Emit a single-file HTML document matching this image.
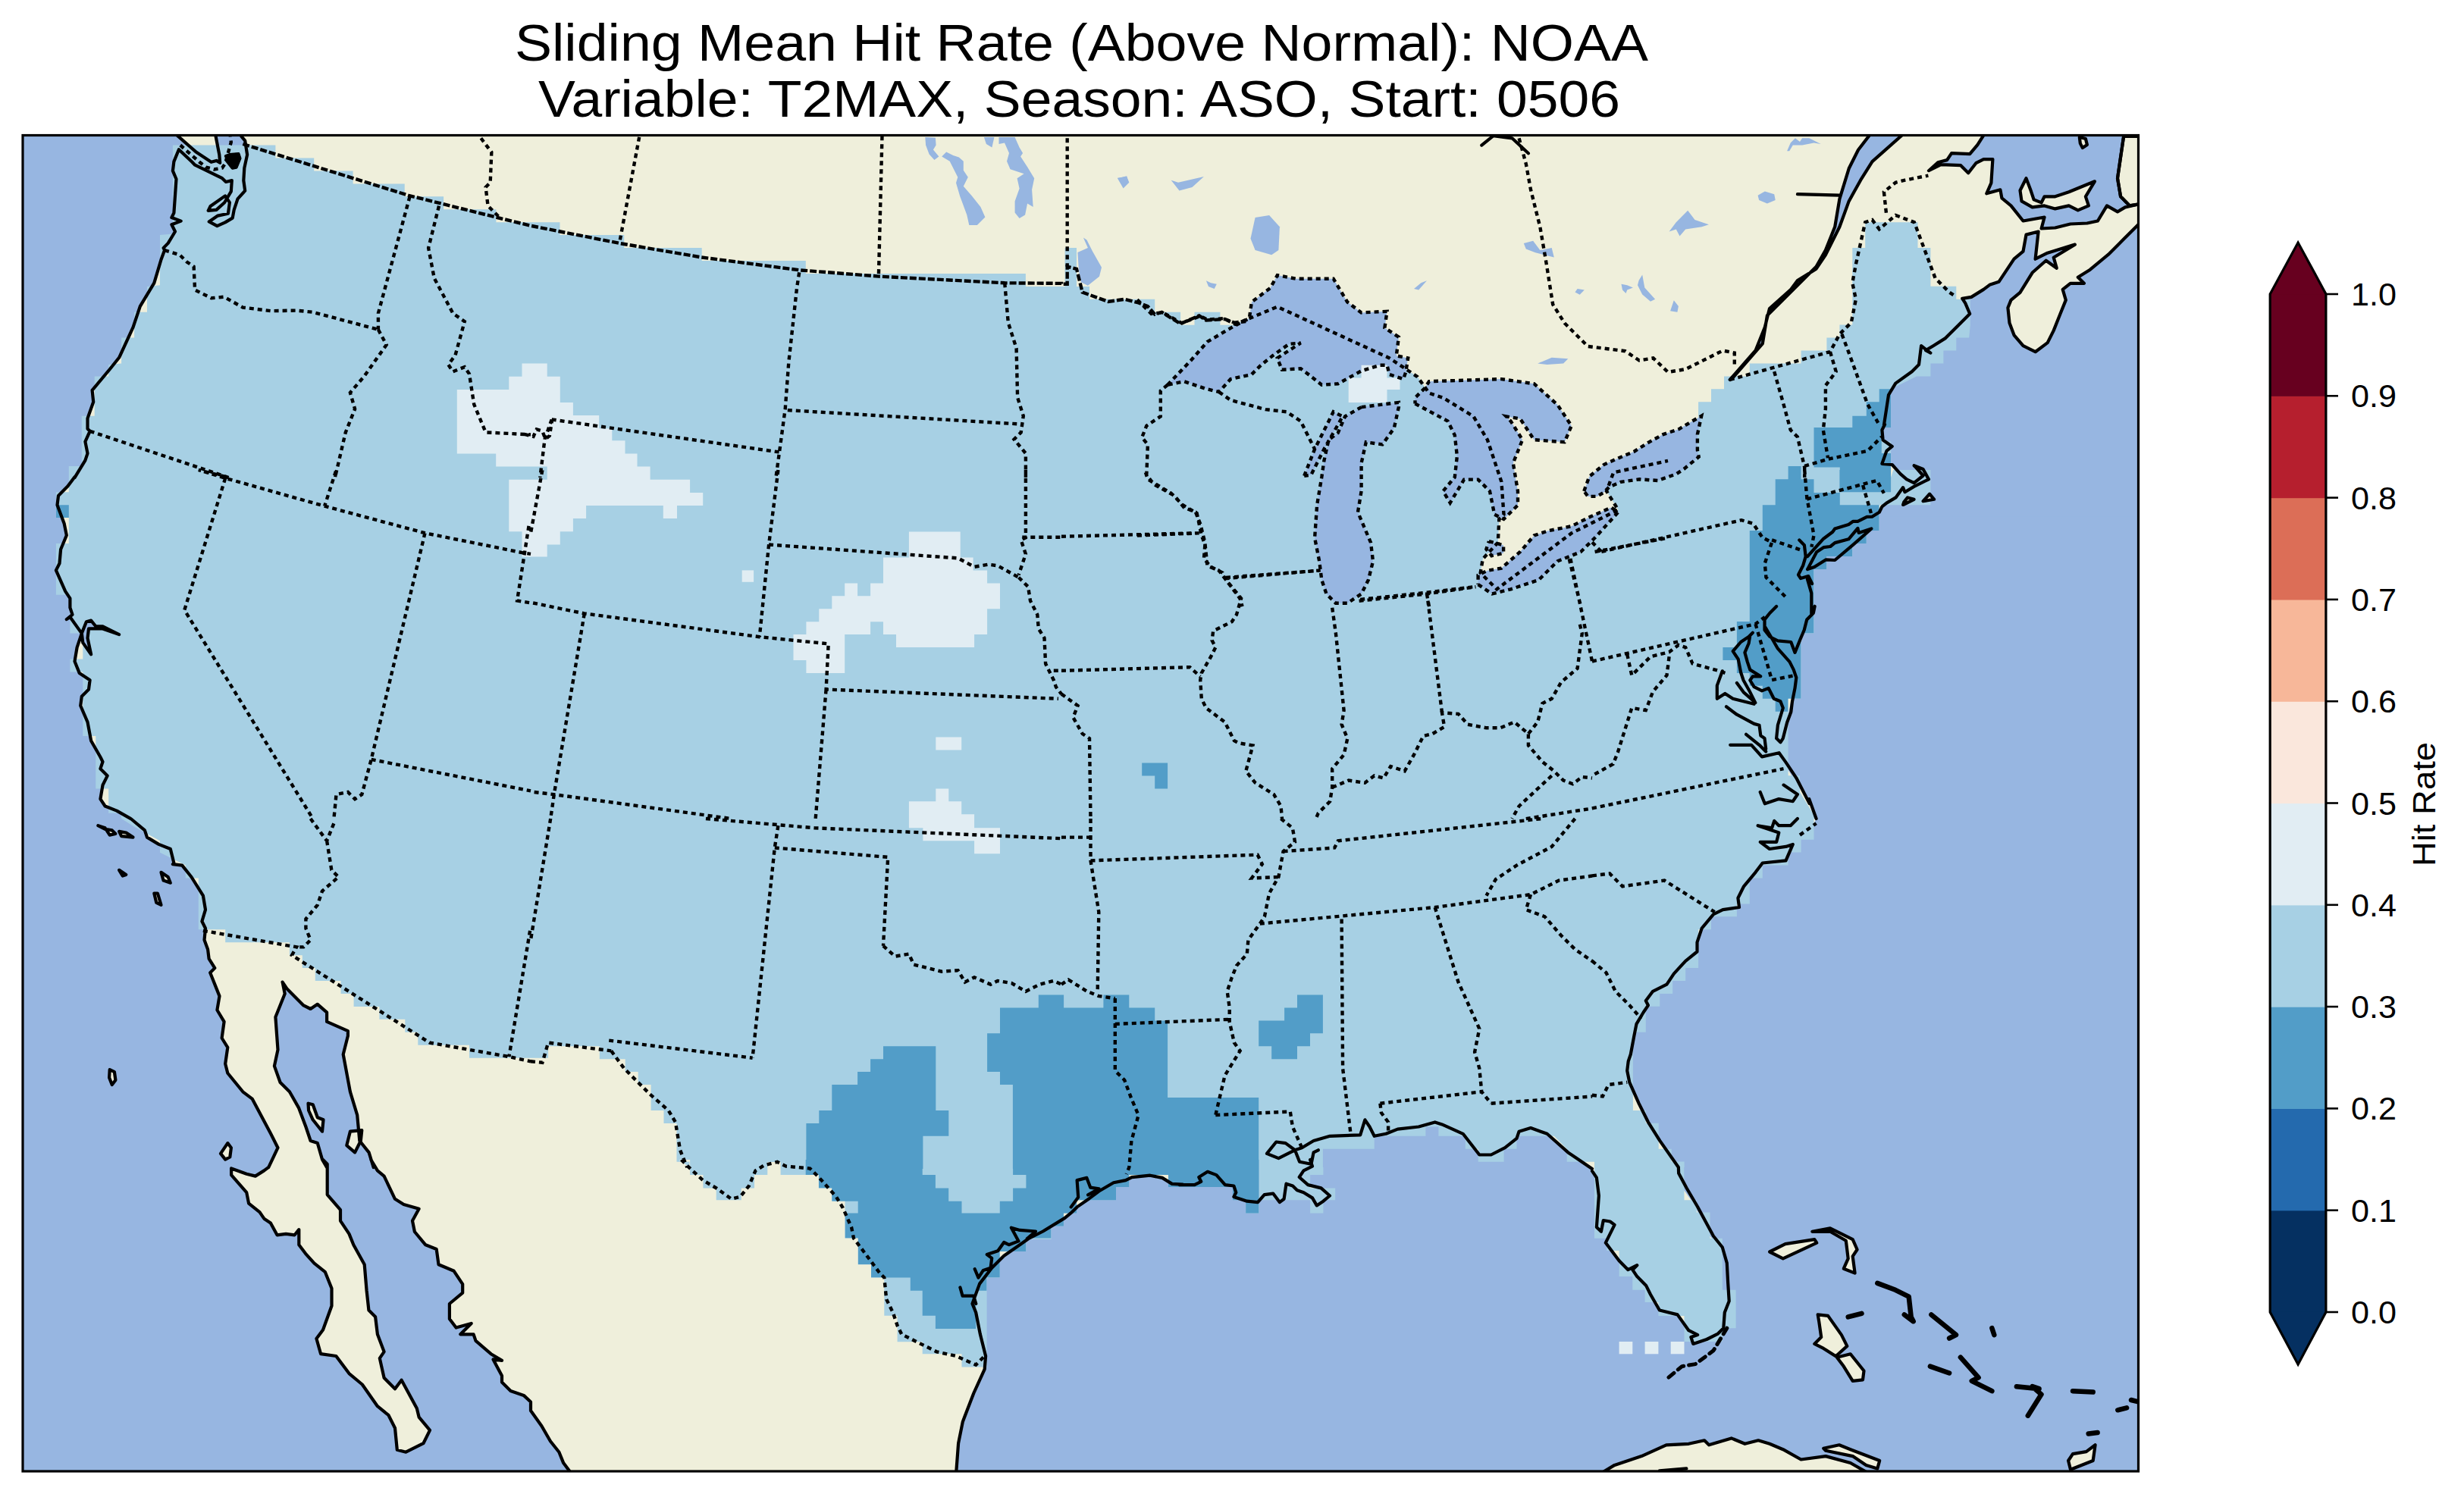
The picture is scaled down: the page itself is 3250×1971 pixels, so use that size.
<!DOCTYPE html>
<html><head><meta charset="utf-8"><style>
html,body{margin:0;padding:0;background:#fff;}
svg{display:block;}
.title{font-family:"Liberation Sans",sans-serif;font-size:68px;fill:#000;}
.tick{font-family:"Liberation Sans",sans-serif;font-size:42px;fill:#000;}
.dot{fill:none;stroke:#000;stroke-width:4.4;stroke-dasharray:6 5;}
.coast{fill:none;stroke:#000;stroke-width:4.2;stroke-linejoin:round;stroke-linecap:round;}
path.coast[fill]{}
</style></head><body>
<svg width="3250" height="1971" viewBox="0 0 3250 1971">
<rect width="3250" height="1971" fill="#fff"/>
<text x="679" y="80" class="title" textLength="1495" lengthAdjust="spacingAndGlyphs">Sliding Mean Hit Rate (Above Normal): NOAA</text><text x="710" y="154" class="title" textLength="1427" lengthAdjust="spacingAndGlyphs">Variable: T2MAX, Season: ASO, Start: 0506</text>
<defs><clipPath id="fr"><rect x="30" y="178.5" width="2790.5" height="1762.5"/></clipPath><clipPath id="dc"><path d="M90.8,630.1 L90.8,615.0 L107.8,615.0 L107.8,548.8 L124.7,548.8 L124.7,496.4 L143.2,496.4 L143.2,481.0 L160.1,479.5 L160.1,445.6 L177.1,445.6 L177.1,411.8 L194.0,411.8 L194.0,377.9 L211.0,376.3 L211.0,310.1 L227.9,308.6 L227.9,191.6 L363.4,191.6 L363.4,208.5 L414.2,208.5 L414.2,225.4 L465.6,225.4 L465.6,242.4 L533.7,242.4 L533.7,259.3 L585.1,259.3 L585.1,276.2 L654.4,276.2 L654.4,293.2 L700.0,293.2 L700.0,293.2 L738.5,293.2 L738.5,310.1 L823.2,310.1 L823.2,327.1 L925.7,327.1 L925.7,344.0 L1062.8,344.0 L1062.8,360.9 L1352.9,360.9 L1352.9,377.9 L1400.0,377.9 L1400.0,377.9 L1404.6,377.9 L1404.6,327.1 L1420.0,327.1 L1420.0,377.9 L1437.0,377.9 L1437.0,394.8 L1523.2,394.8 L1523.2,411.8 L1557.1,411.8 L1557.1,428.7 L1575.5,428.7 L1575.5,411.8 L1609.4,411.8 L1609.4,428.7 L1626.4,428.7 L1629.3,427.8 L1684.8,404.7 L1832.6,472.4 L1851.1,484.7 L1869.6,497.1 L1885.0,518.6 L1903.4,524.8 L1943.5,549.4 L1961.9,580.2 L1980.4,635.6 L1983.5,678.8 L1977.3,684.9 L1975.8,715.7 L1955.8,737.3 L1952.7,755.8 L1974.3,777.3 L2023.5,740.4 L2072.8,703.4 L2103.6,688.0 L2134.4,672.6 L2119.0,648.0 L2128.2,623.3 L2200.0,607.9 L2200.1,608.1 L2223.2,582.6 L2240.1,564.1 L2240.1,530.2 L2257.0,530.2 L2257.0,513.3 L2274.0,513.3 L2274.0,496.4 L2307.8,496.4 L2307.8,479.4 L2375.6,479.4 L2375.6,462.5 L2409.4,462.5 L2409.4,445.6 L2426.4,445.6 L2426.4,428.6 L2443.3,428.6 L2443.3,327.0 L2460.2,327.0 L2460.2,293.2 L2529.5,293.2 L2529.5,327.0 L2546.4,327.0 L2546.4,377.8 L2580.3,377.8 L2580.3,394.8 L2598.8,394.8 L2598.8,428.6 L2597.2,445.6 L2580.3,445.6 L2580.3,462.5 L2563.4,462.5 L2563.4,479.4 L2546.4,479.4 L2546.4,496.4 L2528.0,496.4 L2494.1,513.3 L2494.1,564.1 L2481.8,564.1 L2481.8,582.6 L2494.1,582.6 L2494.1,630.0 L2497.2,620.0 L2546.4,620.0 L2546.4,666.2 L2478.7,666.2 L2478.7,700.1 L2461.8,700.1 L2461.8,717.0 L2443.3,717.0 L2443.3,733.9 L2409.4,733.9 L2409.4,750.9 L2392.5,750.9 L2392.5,835.5 L2375.6,835.5 L2375.6,921.7 L2358.6,921.7 L2358.6,1023.3 L2374.0,1023.3 L2374.0,1044.9 L2395.6,1080.0 L2392.5,1080.0 L2392.5,1107.7 L2375.6,1107.7 L2375.6,1124.6 L2358.6,1124.6 L2358.6,1141.6 L2324.8,1141.6 L2324.8,1158.5 L2307.8,1158.5 L2307.8,1192.4 L2290.9,1192.4 L2290.9,1209.3 L2257.0,1209.3 L2257.0,1226.2 L2240.1,1226.2 L2240.1,1277.0 L2223.2,1277.0 L2223.2,1294.0 L2206.2,1294.0 L2206.2,1310.9 L2189.3,1310.9 L2189.3,1327.8 L2170.8,1327.8 L2170.8,1361.7 L2153.9,1361.7 L2153.9,1464.9 L2170.8,1464.9 L2170.8,1481.8 L2187.7,1481.8 L2187.7,1515.7 L2204.7,1515.7 L2204.7,1532.6 L2221.6,1532.6 L2221.6,1540.0 L2221.2,1540.1 L2221.5,1583.3 L2237.8,1583.3 L2237.8,1599.6 L2255.5,1599.6 L2255.5,1633.7 L2271.8,1633.7 L2271.8,1701.8 L2289.6,1701.8 L2289.6,1752.2 L2271.8,1752.2 L2271.8,1770.0 L2221.5,1770.0 L2221.5,1735.9 L2187.4,1735.9 L2187.4,1718.1 L2169.6,1718.1 L2169.6,1701.8 L2153.3,1701.8 L2153.3,1684.1 L2135.6,1684.1 L2135.6,1650.0 L2119.3,1650.0 L2119.3,1633.7 L2103.0,1633.7 L2103.0,1532.7 L2100.0,1532.7 L2066.7,1532.7 L2066.7,1515.8 L2049.8,1498.8 L2000.5,1498.8 L2000.5,1515.8 L1983.6,1515.8 L1983.6,1532.7 L1949.7,1532.7 L1949.7,1515.8 L1932.8,1515.8 L1932.8,1498.8 L1897.4,1498.8 L1897.4,1486.5 L1880.4,1486.5 L1880.4,1498.8 L1812.7,1498.8 L1812.7,1515.8 L1744.9,1515.8 L1744.9,1540.1 L1745.4,1540.1 L1745.4,1550.1 L1728.1,1550.1 L1728.1,1567.4 L1761.2,1567.4 L1761.2,1583.2 L1745.4,1583.2 L1745.4,1600.5 L1728.1,1600.5 L1728.1,1583.2 L1660.5,1583.2 L1660.5,1600.5 L1643.2,1600.5 L1643.2,1583.2 L1625.9,1583.2 L1625.9,1566.0 L1541.0,1566.0 L1541.0,1550.1 L1489.2,1550.1 L1489.2,1566.0 L1472.0,1566.0 L1472.0,1583.2 L1420.1,1583.2 L1420.1,1600.5 L1402.9,1600.5 L1402.9,1617.8 L1400.0,1617.8 L1400.0,1617.8 L1386.5,1617.8 L1386.5,1635.1 L1353.4,1635.1 L1353.4,1650.9 L1318.8,1650.9 L1318.8,1685.4 L1301.6,1685.4 L1301.6,1803.4 L1268.5,1803.4 L1268.5,1786.2 L1216.7,1786.2 L1216.7,1770.3 L1183.6,1770.3 L1183.6,1735.8 L1166.3,1735.8 L1166.3,1685.4 L1149.0,1685.4 L1149.0,1668.2 L1131.7,1668.2 L1131.7,1633.6 L1114.5,1633.6 L1114.5,1584.7 L1097.2,1584.7 L1097.2,1567.4 L1079.9,1567.4 L1079.9,1550.1 L1029.6,1550.1 L1029.6,1532.9 L1012.3,1532.9 L1012.3,1550.1 L995.0,1550.1 L995.0,1567.4 L977.8,1567.4 L977.8,1583.2 L944.7,1583.2 L944.7,1567.4 L927.4,1567.4 L927.4,1550.1 L910.1,1550.1 L910.1,1530.0 L895.7,1530.0 L909.4,1540.1 L909.4,1532.7 L892.5,1532.7 L892.5,1481.9 L875.5,1481.9 L875.5,1465.0 L858.6,1465.0 L858.6,1431.1 L841.7,1431.1 L841.7,1414.1 L824.7,1414.1 L824.7,1397.2 L790.8,1397.2 L790.8,1380.3 L723.1,1380.3 L723.1,1395.7 L700.0,1395.7 L700.0,1395.7 L619.0,1395.7 L619.0,1378.7 L551.3,1378.7 L551.3,1361.8 L534.3,1361.8 L534.3,1344.8 L500.4,1344.8 L500.4,1327.9 L466.6,1327.9 L466.6,1311.0 L449.6,1311.0 L449.6,1294.0 L415.8,1294.0 L415.8,1277.1 L398.8,1277.1 L398.8,1260.2 L381.9,1260.2 L381.9,1243.2 L297.2,1243.2 L297.2,1226.3 L261.8,1226.3 L261.8,1158.5 L244.8,1158.5 L244.8,1141.6 L211.0,1124.7 L211.0,1109.3 L177.1,1090.8 L160.1,1080.0 L160.1,1080.1 L160.1,1072.7 L143.2,1072.7 L143.2,1040.4 L126.3,1040.4 L126.3,971.1 L109.3,971.1 L109.3,886.4 L92.4,886.4 L92.4,869.5 L109.3,869.5 L109.3,835.6 L92.4,835.6 L92.4,784.8 L73.9,784.8 L73.9,717.0 L90.8,717.0 L90.8,683.1 L73.9,683.1 L73.9,649.3 L90.8,649.3 L90.8,620.0Z"/></clipPath></defs><g clip-path="url(#fr)"><rect x="30" y="178.5" width="2790.5" height="1762.5" fill="#efefdb"/><path d="M25.0,173.5 L318.4,173.5 L318.4,179.9 L323.2,185.7 L326.1,204.1 L322.3,221.6 L321.3,238.1 L323.2,251.7 L313.5,262.3 L308.7,276.9 L306.7,287.6 L297.0,293.4 L286.4,298.2 L275.7,292.4 L287.3,284.6 L300.9,281.7 L302.9,267.2 L297.0,258.4 L277.6,272.0 L274.7,277.9 L285.4,276.9 L296.1,267.2 L304.8,252.6 L305.8,238.1 L298.0,240.0 L293.1,235.2 L285.4,231.3 L257.2,217.7 L253.4,213.8 L235.9,197.3 L229.4,213.1 L227.9,225.4 L232.5,236.2 L229.4,280.9 L226.4,287.0 L238.7,291.6 L226.4,296.3 L231.0,305.5 L221.7,320.9 L215.6,327.1 L217.1,330.1 L212.5,342.5 L203.3,373.3 L184.8,404.1 L175.5,431.8 L157.1,471.8 L144.7,487.2 L121.6,514.9 L123.2,530.3 L115.5,551.9 L115.5,565.7 L118.6,568.8 L112.4,582.7 L115.5,598.1 L112.4,607.3 L98.5,630.1 L98.5,630.1 L98.5,629.2 L89.3,641.6 L77.0,653.9 L75.5,666.2 L84.7,690.8 L87.8,706.2 L80.1,724.7 L78.5,743.2 L73.9,752.4 L86.2,780.1 L92.4,789.4 L92.4,801.7 L95.5,810.9 L87.8,817.1 L92.4,814.0 L107.8,835.6 L101.6,854.1 L98.5,872.5 L104.7,887.9 L118.6,897.2 L117.0,909.5 L107.8,918.7 L106.2,931.0 L115.5,952.6 L120.1,977.2 L132.4,998.8 L135.5,1005.0 L132.4,1014.2 L141.7,1023.4 L135.5,1035.8 L132.4,1054.2 L138.6,1063.5 L154.0,1069.6 L172.5,1080.1 L172.5,1080.0 L190.9,1095.4 L194.0,1104.6 L209.4,1113.9 L224.8,1120.0 L229.4,1138.5 L227.9,1140.1 L240.2,1141.6 L252.5,1157.0 L267.9,1181.6 L271.0,1200.1 L266.4,1215.5 L271.0,1224.7 L269.5,1240.1 L274.1,1252.5 L275.6,1264.8 L283.3,1277.1 L277.2,1283.3 L289.5,1314.1 L286.4,1332.5 L295.6,1347.9 L292.6,1369.5 L300.3,1381.8 L297.2,1403.4 L300.3,1415.7 L320.3,1440.3 L332.6,1449.6 L357.2,1495.8 L366.5,1514.2 L354.2,1540.1 L354.0,1540.1 L348.3,1544.4 L336.8,1551.6 L325.2,1548.7 L305.1,1541.5 L305.1,1550.1 L325.2,1573.2 L328.1,1587.6 L342.5,1599.1 L348.3,1607.7 L356.9,1613.5 L365.5,1629.3 L377.1,1627.9 L388.6,1629.3 L394.3,1622.1 L394.3,1642.3 L403.0,1653.8 L414.5,1666.7 L428.9,1678.2 L437.5,1699.8 L437.5,1722.8 L426.0,1754.5 L417.4,1766.0 L423.1,1786.2 L443.3,1789.0 L460.5,1812.1 L477.8,1826.5 L497.9,1855.2 L512.3,1866.8 L521.0,1884.0 L523.8,1912.8 L535.4,1915.7 L558.4,1904.2 L567.0,1886.9 L552.6,1869.6 L549.8,1858.1 L529.6,1820.7 L521.0,1832.2 L506.6,1817.8 L500.8,1791.9 L506.6,1783.3 L497.9,1760.3 L495.1,1737.2 L486.4,1728.6 L483.6,1702.7 L480.7,1668.2 L466.3,1642.3 L460.5,1627.9 L449.0,1610.6 L449.0,1596.2 L431.7,1576.1 L431.7,1535.8 L426.0,1530.0 L431.1,1540.1 L425.0,1529.6 L418.8,1508.1 L409.6,1505.0 L403.4,1486.5 L394.2,1461.9 L381.9,1440.3 L369.6,1428.0 L361.9,1406.4 L366.5,1384.9 L363.4,1341.8 L375.7,1311.0 L372.6,1295.6 L372.6,1295.6 L378.8,1304.8 L400.4,1326.4 L409.6,1331.0 L418.8,1324.8 L431.1,1335.6 L431.1,1347.9 L458.9,1360.2 L458.9,1366.4 L452.7,1391.0 L461.9,1440.3 L471.2,1471.1 L474.3,1505.0 L486.6,1520.4 L492.7,1540.1 L489.3,1530.0 L497.9,1544.4 L506.6,1551.6 L521.0,1581.8 L532.5,1589.0 L552.6,1594.8 L544.0,1610.6 L546.9,1625.0 L561.3,1642.3 L575.7,1648.0 L578.5,1668.2 L598.7,1676.8 L610.2,1694.1 L610.2,1705.6 L592.9,1720.0 L592.9,1740.1 L601.6,1751.6 L621.7,1745.9 L607.3,1760.3 L624.6,1760.3 L627.5,1768.9 L647.6,1786.2 L662.0,1794.8 L650.5,1793.4 L662.0,1815.0 L662.0,1823.6 L673.5,1835.1 L690.8,1840.9 L700.0,1849.5 L700.0,1861.0 L714.4,1881.2 L725.9,1901.3 L737.4,1915.7 L743.2,1930.1 L751.8,1941.6 L751.8,1946.0 L25.0,1946.0Z" fill="#97b6e1"/><path d="M1261.3,1946.0 L1261.3,1941.6 L1264.1,1904.2 L1269.9,1875.4 L1284.3,1838.0 L1298.7,1806.3 L1300.1,1789.0 L1292.9,1760.3 L1287.2,1731.5 L1282.5,1719.9 L1292.1,1693.6 L1308.2,1672.7 L1324.2,1656.7 L1345.1,1642.2 L1356.4,1634.2 L1375.6,1624.5 L1404.5,1606.9 L1414.2,1598.8 L1420.6,1592.4 L1436.7,1581.2 L1449.5,1571.5 L1468.8,1560.3 L1484.8,1557.1 L1492.9,1553.1 L1517.0,1550.7 L1533.0,1553.9 L1545.9,1561.9 L1560.0,1562.7 L1555.4,1563.1 L1575.6,1563.1 L1584.2,1558.8 L1581.3,1553.0 L1592.8,1545.8 L1604.4,1550.1 L1615.9,1563.1 L1627.4,1564.5 L1630.3,1573.2 L1627.4,1578.9 L1644.7,1584.7 L1659.0,1586.1 L1667.7,1576.1 L1679.2,1574.6 L1687.8,1586.1 L1693.6,1581.8 L1696.5,1561.7 L1705.1,1564.5 L1710.9,1570.3 L1719.5,1573.2 L1731.0,1580.4 L1736.8,1590.4 L1745.4,1584.7 L1754.0,1577.5 L1742.5,1567.4 L1725.2,1563.1 L1713.7,1553.0 L1719.5,1544.4 L1731.0,1538.6 L1728.1,1530.0 L1671.0,1521.9 L1683.3,1506.5 L1695.6,1508.1 L1708.0,1517.3 L1717.2,1514.2 L1732.6,1505.0 L1754.2,1498.8 L1794.2,1497.3 L1800.4,1477.3 L1806.5,1486.5 L1812.7,1498.8 L1828.1,1495.8 L1843.5,1489.6 L1871.2,1486.5 L1892.7,1480.4 L1902.0,1483.4 L1929.7,1495.8 L1951.3,1523.5 L1966.7,1523.5 L1985.1,1514.2 L2000.5,1501.9 L2003.6,1492.7 L2019.0,1488.1 L2040.6,1495.8 L2068.3,1520.4 L2100.0,1541.9 L2100.0,1544.8 L2105.9,1553.7 L2108.9,1577.4 L2105.9,1618.9 L2111.9,1624.8 L2114.8,1610.0 L2123.7,1611.5 L2129.6,1615.9 L2117.8,1639.6 L2135.6,1663.3 L2147.4,1675.2 L2159.3,1669.2 L2153.3,1675.2 L2159.3,1684.1 L2171.1,1695.9 L2177.0,1707.8 L2188.9,1728.5 L2212.6,1734.4 L2227.4,1755.2 L2239.2,1761.1 L2230.4,1764.1 L2233.3,1772.9 L2251.1,1767.0 L2265.9,1759.6 L2273.3,1752.2 L2277.8,1719.6 L2270.4,1707.8 L2270.4,1666.3 L2268.9,1645.5 L2252.6,1627.8 L2234.8,1589.3 L2220.0,1568.5 L2217.0,1547.8 L2213.9,1540.0 L2213.9,1540.0 L2189.3,1504.9 L2173.9,1480.3 L2161.6,1455.6 L2149.3,1427.9 L2146.2,1412.5 L2147.7,1400.2 L2150.8,1391.0 L2155.4,1366.3 L2158.5,1350.9 L2167.7,1335.5 L2173.9,1326.3 L2170.8,1320.2 L2180.1,1307.8 L2198.5,1298.6 L2207.8,1284.7 L2223.2,1267.8 L2238.5,1255.5 L2238.5,1243.2 L2244.7,1224.7 L2260.1,1206.2 L2272.4,1200.1 L2294.0,1197.0 L2292.4,1184.7 L2300.1,1169.3 L2315.5,1150.8 L2324.8,1138.5 L2355.5,1135.4 L2364.8,1113.9 L2377.1,1101.6 L2392.5,1086.2 L2395.6,1080.0 L2395.6,1080.0 L2386.3,1054.1 L2370.9,1035.6 L2355.5,1011.0 L2346.3,994.1 L2346.3,977.1 L2355.5,955.6 L2361.7,927.9 L2370.9,890.9 L2365.2,860.4 L2373.2,855.0 L2381.2,828.2 L2389.3,809.5 L2389.3,782.7 L2383.9,763.9 L2373.2,758.6 L2381.2,747.9 L2382.6,726.4 L2375.9,713.0 L2395.6,712.4 L2423.3,698.5 L2469.5,678.5 L2469.2,681.7 L2478.8,675.7 L2482.4,668.4 L2488.4,663.6 L2500.5,656.4 L2510.1,643.1 L2512.5,649.2 L2524.6,641.9 L2543.9,632.3 L2536.6,619.0 L2524.6,614.2 L2527.0,616.6 L2536.6,627.5 L2524.6,637.1 L2514.9,632.3 L2506.5,625.1 L2495.7,613.0 L2482.4,611.8 L2488.4,594.9 L2495.7,588.9 L2483.6,580.5 L2482.4,567.2 L2486.0,560.0 L2825.5,560.0 L2825.5,1946.0Z" fill="#97b6e1"/><path d="M2281.7,501.0 L2315.5,462.5 L2327.8,431.7 L2334.0,407.1 L2361.7,382.4 L2370.9,370.1 L2395.6,354.7 L2407.9,336.3 L2426.4,299.3 L2438.7,265.4 L2454.1,237.7 L2469.5,213.1 L2509.5,177.7 L2466.4,177.7 L2451.0,197.7 L2438.7,222.3 L2426.4,262.4 L2420.2,299.3 L2407.9,330.1 L2395.6,351.7 L2352.5,394.8 L2330.9,416.3 L2324.8,453.3 L2284.7,499.4Z" fill="#97b6e1"/><path d="M2616.9,177.6 L2608.3,191.1 L2598.2,203.1 L2574.1,202.1 L2568.1,211.1 L2556.1,214.2 L2544.0,225.2 L2560.1,217.2 L2586.2,218.2 L2596.2,228.2 L2606.3,215.2 L2616.3,210.1 L2628.4,210.1 L2626.4,241.3 L2620.3,255.3 L2638.4,250.3 L2640.4,261.4 L2652.5,271.4 L2668.5,291.5 L2696.6,286.5 L2692.6,301.5 L2710.7,300.5 L2730.8,295.5 L2752.9,294.5 L2766.9,291.5 L2779.0,271.4 L2793.0,279.4 L2803.1,273.4 L2821.2,269.4 L2821.2,295.5 L2801.1,315.6 L2781.0,335.7 L2756.9,355.7 L2740.8,365.8 L2748.9,373.8 L2730.8,373.8 L2720.7,381.9 L2724.8,395.9 L2716.7,416.0 L2708.7,436.1 L2700.7,452.1 L2684.6,464.2 L2668.5,456.2 L2656.5,442.1 L2650.5,426.0 L2648.4,406.0 L2652.5,395.9 L2664.5,385.9 L2680.6,359.8 L2698.7,343.7 L2712.7,353.7 L2708.7,339.7 L2736.8,322.6 L2700.7,333.7 L2684.6,341.7 L2688.6,305.5 L2672.5,309.6 L2668.5,331.6 L2656.5,341.7 L2636.4,371.8 L2624.3,375.8 L2616.3,381.9 L2600.2,391.9 L2588.2,393.9 L2592.2,399.9 L2598.2,414.0 L2584.2,428.0 L2566.1,446.1 L2550.0,456.2 L2540.0,462.2 L2546.4,465.6 L2534.1,456.3 L2531.0,481.0 L2521.8,490.2 L2500.3,505.6 L2491.0,521.0 L2484.9,561.0 L2486.0,560.0 L2482.4,567.2 L2483.6,580.5 L2495.7,588.9 L2488.4,594.9 L2482.4,611.8 L2495.7,613.0 L2506.5,625.1 L2514.9,632.3 L2524.6,637.1 L2536.6,627.5 L2527.0,616.6 L2524.6,614.2 L2536.6,619.0 L2543.9,632.3 L2524.6,641.9 L2512.5,649.2 L2510.1,643.1 L2500.5,656.4 L2488.4,663.6 L2482.4,668.4 L2478.8,675.7 L2469.2,681.7 L2830.0,681.7 L2830.0,170.0Z" fill="#97b6e1"/><path d="M234.0,178.9 L258.2,200.2 L278.6,213.8 L285.4,211.9 L290.2,214.8 L289.3,204.1 L284.4,178.9Z" fill="#efefdb"/><path d="M90.8,630.1 L90.8,615.0 L107.8,615.0 L107.8,548.8 L124.7,548.8 L124.7,496.4 L143.2,496.4 L143.2,481.0 L160.1,479.5 L160.1,445.6 L177.1,445.6 L177.1,411.8 L194.0,411.8 L194.0,377.9 L211.0,376.3 L211.0,310.1 L227.9,308.6 L227.9,191.6 L363.4,191.6 L363.4,208.5 L414.2,208.5 L414.2,225.4 L465.6,225.4 L465.6,242.4 L533.7,242.4 L533.7,259.3 L585.1,259.3 L585.1,276.2 L654.4,276.2 L654.4,293.2 L700.0,293.2 L700.0,293.2 L738.5,293.2 L738.5,310.1 L823.2,310.1 L823.2,327.1 L925.7,327.1 L925.7,344.0 L1062.8,344.0 L1062.8,360.9 L1352.9,360.9 L1352.9,377.9 L1400.0,377.9 L1400.0,377.9 L1404.6,377.9 L1404.6,327.1 L1420.0,327.1 L1420.0,377.9 L1437.0,377.9 L1437.0,394.8 L1523.2,394.8 L1523.2,411.8 L1557.1,411.8 L1557.1,428.7 L1575.5,428.7 L1575.5,411.8 L1609.4,411.8 L1609.4,428.7 L1626.4,428.7 L1629.3,427.8 L1684.8,404.7 L1832.6,472.4 L1851.1,484.7 L1869.6,497.1 L1885.0,518.6 L1903.4,524.8 L1943.5,549.4 L1961.9,580.2 L1980.4,635.6 L1983.5,678.8 L1977.3,684.9 L1975.8,715.7 L1955.8,737.3 L1952.7,755.8 L1974.3,777.3 L2023.5,740.4 L2072.8,703.4 L2103.6,688.0 L2134.4,672.6 L2119.0,648.0 L2128.2,623.3 L2200.0,607.9 L2200.1,608.1 L2223.2,582.6 L2240.1,564.1 L2240.1,530.2 L2257.0,530.2 L2257.0,513.3 L2274.0,513.3 L2274.0,496.4 L2307.8,496.4 L2307.8,479.4 L2375.6,479.4 L2375.6,462.5 L2409.4,462.5 L2409.4,445.6 L2426.4,445.6 L2426.4,428.6 L2443.3,428.6 L2443.3,327.0 L2460.2,327.0 L2460.2,293.2 L2529.5,293.2 L2529.5,327.0 L2546.4,327.0 L2546.4,377.8 L2580.3,377.8 L2580.3,394.8 L2598.8,394.8 L2598.8,428.6 L2597.2,445.6 L2580.3,445.6 L2580.3,462.5 L2563.4,462.5 L2563.4,479.4 L2546.4,479.4 L2546.4,496.4 L2528.0,496.4 L2494.1,513.3 L2494.1,564.1 L2481.8,564.1 L2481.8,582.6 L2494.1,582.6 L2494.1,630.0 L2497.2,620.0 L2546.4,620.0 L2546.4,666.2 L2478.7,666.2 L2478.7,700.1 L2461.8,700.1 L2461.8,717.0 L2443.3,717.0 L2443.3,733.9 L2409.4,733.9 L2409.4,750.9 L2392.5,750.9 L2392.5,835.5 L2375.6,835.5 L2375.6,921.7 L2358.6,921.7 L2358.6,1023.3 L2374.0,1023.3 L2374.0,1044.9 L2395.6,1080.0 L2392.5,1080.0 L2392.5,1107.7 L2375.6,1107.7 L2375.6,1124.6 L2358.6,1124.6 L2358.6,1141.6 L2324.8,1141.6 L2324.8,1158.5 L2307.8,1158.5 L2307.8,1192.4 L2290.9,1192.4 L2290.9,1209.3 L2257.0,1209.3 L2257.0,1226.2 L2240.1,1226.2 L2240.1,1277.0 L2223.2,1277.0 L2223.2,1294.0 L2206.2,1294.0 L2206.2,1310.9 L2189.3,1310.9 L2189.3,1327.8 L2170.8,1327.8 L2170.8,1361.7 L2153.9,1361.7 L2153.9,1464.9 L2170.8,1464.9 L2170.8,1481.8 L2187.7,1481.8 L2187.7,1515.7 L2204.7,1515.7 L2204.7,1532.6 L2221.6,1532.6 L2221.6,1540.0 L2221.2,1540.1 L2221.5,1583.3 L2237.8,1583.3 L2237.8,1599.6 L2255.5,1599.6 L2255.5,1633.7 L2271.8,1633.7 L2271.8,1701.8 L2289.6,1701.8 L2289.6,1752.2 L2271.8,1752.2 L2271.8,1770.0 L2221.5,1770.0 L2221.5,1735.9 L2187.4,1735.9 L2187.4,1718.1 L2169.6,1718.1 L2169.6,1701.8 L2153.3,1701.8 L2153.3,1684.1 L2135.6,1684.1 L2135.6,1650.0 L2119.3,1650.0 L2119.3,1633.7 L2103.0,1633.7 L2103.0,1532.7 L2100.0,1532.7 L2066.7,1532.7 L2066.7,1515.8 L2049.8,1498.8 L2000.5,1498.8 L2000.5,1515.8 L1983.6,1515.8 L1983.6,1532.7 L1949.7,1532.7 L1949.7,1515.8 L1932.8,1515.8 L1932.8,1498.8 L1897.4,1498.8 L1897.4,1486.5 L1880.4,1486.5 L1880.4,1498.8 L1812.7,1498.8 L1812.7,1515.8 L1744.9,1515.8 L1744.9,1540.1 L1745.4,1540.1 L1745.4,1550.1 L1728.1,1550.1 L1728.1,1567.4 L1761.2,1567.4 L1761.2,1583.2 L1745.4,1583.2 L1745.4,1600.5 L1728.1,1600.5 L1728.1,1583.2 L1660.5,1583.2 L1660.5,1600.5 L1643.2,1600.5 L1643.2,1583.2 L1625.9,1583.2 L1625.9,1566.0 L1541.0,1566.0 L1541.0,1550.1 L1489.2,1550.1 L1489.2,1566.0 L1472.0,1566.0 L1472.0,1583.2 L1420.1,1583.2 L1420.1,1600.5 L1402.9,1600.5 L1402.9,1617.8 L1400.0,1617.8 L1400.0,1617.8 L1386.5,1617.8 L1386.5,1635.1 L1353.4,1635.1 L1353.4,1650.9 L1318.8,1650.9 L1318.8,1685.4 L1301.6,1685.4 L1301.6,1803.4 L1268.5,1803.4 L1268.5,1786.2 L1216.7,1786.2 L1216.7,1770.3 L1183.6,1770.3 L1183.6,1735.8 L1166.3,1735.8 L1166.3,1685.4 L1149.0,1685.4 L1149.0,1668.2 L1131.7,1668.2 L1131.7,1633.6 L1114.5,1633.6 L1114.5,1584.7 L1097.2,1584.7 L1097.2,1567.4 L1079.9,1567.4 L1079.9,1550.1 L1029.6,1550.1 L1029.6,1532.9 L1012.3,1532.9 L1012.3,1550.1 L995.0,1550.1 L995.0,1567.4 L977.8,1567.4 L977.8,1583.2 L944.7,1583.2 L944.7,1567.4 L927.4,1567.4 L927.4,1550.1 L910.1,1550.1 L910.1,1530.0 L895.7,1530.0 L909.4,1540.1 L909.4,1532.7 L892.5,1532.7 L892.5,1481.9 L875.5,1481.9 L875.5,1465.0 L858.6,1465.0 L858.6,1431.1 L841.7,1431.1 L841.7,1414.1 L824.7,1414.1 L824.7,1397.2 L790.8,1397.2 L790.8,1380.3 L723.1,1380.3 L723.1,1395.7 L700.0,1395.7 L700.0,1395.7 L619.0,1395.7 L619.0,1378.7 L551.3,1378.7 L551.3,1361.8 L534.3,1361.8 L534.3,1344.8 L500.4,1344.8 L500.4,1327.9 L466.6,1327.9 L466.6,1311.0 L449.6,1311.0 L449.6,1294.0 L415.8,1294.0 L415.8,1277.1 L398.8,1277.1 L398.8,1260.2 L381.9,1260.2 L381.9,1243.2 L297.2,1243.2 L297.2,1226.3 L261.8,1226.3 L261.8,1158.5 L244.8,1158.5 L244.8,1141.6 L211.0,1124.7 L211.0,1109.3 L177.1,1090.8 L160.1,1080.0 L160.1,1080.1 L160.1,1072.7 L143.2,1072.7 L143.2,1040.4 L126.3,1040.4 L126.3,971.1 L109.3,971.1 L109.3,886.4 L92.4,886.4 L92.4,869.5 L109.3,869.5 L109.3,835.6 L92.4,835.6 L92.4,784.8 L73.9,784.8 L73.9,717.0 L90.8,717.0 L90.8,683.1 L73.9,683.1 L73.9,649.3 L90.8,649.3 L90.8,620.0Z" fill="#a7d0e4"/><path d="M2426.4,620.0 H2494.1 V649.2 H2426.4ZM2358.6,620.0 H2375.6 V633.9 H2358.6ZM2341.7,632.3 H2392.5 V666.2 H2341.7ZM2324.8,666.2 H2478.7 V700.1 H2324.8ZM2307.8,700.1 H2461.8 V717.0 H2307.8ZM2307.8,717.0 H2443.3 V733.9 H2307.8ZM2307.8,733.9 H2409.4 V750.9 H2307.8ZM2307.8,750.9 H2392.5 V820.1 H2307.8ZM2290.9,820.1 H2392.5 V835.5 H2290.9ZM2290.9,835.5 H2375.6 V887.9 H2290.9ZM2272.4,854.0 H2290.9 V870.9 H2272.4ZM2307.8,887.9 H2375.6 V904.8 H2307.8ZM2324.8,904.8 H2375.6 V921.7 H2324.8ZM2341.7,921.7 H2358.6 V938.7 H2341.7ZM2392.5,564.1 H2481.8 V598.0 H2392.5ZM2358.6,614.9 H2375.6 V631.8 H2358.6ZM2443.3,548.7 H2494.1 V564.1 H2443.3ZM2461.8,530.2 H2494.1 V548.7 H2461.8ZM2478.7,513.3 H2494.1 V530.2 H2478.7ZM1063.4,1481.9 H1217.4 V1541.9 H1063.4ZM1080.3,1465.0 H1251.3 V1498.8 H1080.3ZM1097.3,1431.1 H1234.3 V1465.0 H1097.3ZM1131.1,1414.1 H1234.3 V1431.1 H1131.1ZM1148.1,1397.2 H1234.3 V1414.1 H1148.1ZM1165.0,1380.3 H1234.3 V1397.2 H1165.0ZM1302.1,1363.3 H1400.0 V1414.1 H1302.1ZM1319.0,1329.5 H1400.0 V1363.3 H1319.0ZM1369.8,1312.5 H1400.0 V1329.5 H1369.8ZM1319.0,1414.1 H1400.0 V1431.1 H1319.0ZM1335.9,1431.1 H1400.0 V1541.9 H1335.9ZM1400.0,1329.5 H1523.2 V1346.4 H1400.0ZM1455.4,1312.5 H1489.3 V1329.5 H1455.4ZM1400.0,1346.4 H1540.1 V1448.0 H1400.0ZM1400.0,1448.0 H1660.2 V1541.9 H1400.0ZM1400.0,1312.5 H1403.1 V1329.5 H1400.0ZM1711.0,1312.5 H1744.9 V1363.3 H1711.0ZM1694.1,1329.5 H1744.9 V1346.4 H1694.1ZM1660.2,1346.4 H1728.0 V1380.3 H1660.2ZM1677.2,1380.3 H1711.0 V1397.2 H1677.2ZM1062.7,1530.0 H1216.7 V1550.1 H1062.7ZM1336.1,1530.0 H1400.0 V1550.1 H1336.1ZM1079.9,1550.1 H1233.9 V1567.4 H1079.9ZM1353.4,1550.1 H1400.0 V1567.4 H1353.4ZM1097.2,1567.4 H1251.2 V1584.7 H1097.2ZM1336.1,1567.4 H1400.0 V1584.7 H1336.1ZM1131.7,1584.7 H1268.5 V1600.5 H1131.7ZM1318.8,1584.7 H1400.0 V1600.5 H1318.8ZM1114.5,1600.5 H1400.0 V1617.8 H1114.5ZM1114.5,1617.8 H1386.5 V1633.6 H1114.5ZM1131.7,1633.6 H1353.4 V1650.9 H1131.7ZM1131.7,1650.9 H1318.8 V1668.2 H1131.7ZM1149.0,1668.2 H1318.8 V1685.4 H1149.0ZM1200.8,1685.4 H1301.6 V1702.7 H1200.8ZM1216.7,1702.7 H1287.2 V1735.8 H1216.7ZM1233.9,1735.8 H1287.2 V1753.1 H1233.9ZM1400.0,1530.0 H1660.5 V1602.0 H1400.0ZM1400.0,1600.5 H1403.5 V1617.8 H1400.0ZM2392.5,598.0 H2494.0 V616.6 H2392.5ZM2426.8,616.6 H2494.0 V631.8 H2426.8ZM2392.5,650.0 H2426.8 V667.0 H2392.5ZM73.9,666.2 L90.8,666.2 L90.8,683.1 L73.9,683.1ZM1506.2,1006.5 L1540.1,1006.5 L1540.1,1040.4 L1523.2,1040.4 L1523.2,1023.4 L1506.2,1023.4Z" fill="#529dc8" clip-path="url(#dc)"/><path d="M1220.3,181.0 L1233.9,181.8 L1234.6,191.6 L1230.9,197.6 L1238.4,206.6 L1232.4,211.1 L1225.6,203.6 L1221.1,191.6Z" fill="#97b6e1"/><path d="M1242.2,206.6 L1248.2,200.6 L1257.2,205.1 L1264.8,207.4 L1270.8,212.7 L1270.8,224.7 L1276.8,233.7 L1270.8,245.8 L1281.3,257.8 L1293.4,272.9 L1299.4,286.4 L1288.9,297.0 L1278.3,297.0 L1275.3,283.4 L1266.3,259.3 L1261.0,241.3 L1263.3,233.7 L1252.7,212.7Z" fill="#97b6e1"/><path d="M1540.0,507.8 L1570.8,475.5 L1592.4,450.9 L1629.3,429.3 L1647.8,420.1 L1650.9,398.5 L1675.5,380.0 L1684.8,363.1 L1709.4,367.7 L1758.7,367.7 L1777.2,398.5 L1795.6,412.4 L1829.5,410.8 L1826.4,432.4 L1844.9,444.7 L1841.8,469.3 L1857.2,472.4 L1854.2,490.9 L1851.1,500.1 L1832.6,494.0 L1829.5,481.7 L1820.3,481.7 L1795.6,489.4 L1778.7,498.6 L1764.8,506.3 L1743.3,507.8 L1727.9,495.5 L1715.6,486.3 L1690.9,487.8 L1684.8,472.4 L1715.6,452.4 L1700.2,453.9 L1678.6,469.3 L1663.2,481.7 L1650.9,494.0 L1623.2,500.1 L1607.8,517.1 L1589.3,512.5 L1561.6,503.2Z" fill="#97b6e1"/><path d="M1795.6,537.1 L1844.9,530.9 L1844.9,537.1 L1838.8,564.8 L1823.4,586.4 L1801.8,583.3 L1795.6,611.0 L1795.6,648.0 L1791.0,675.7 L1808.0,715.7 L1811.0,740.4 L1804.9,765.0 L1795.6,783.5 L1777.2,795.8 L1761.8,795.8 L1749.5,783.5 L1743.3,765.0 L1740.2,740.4 L1734.1,709.6 L1737.1,666.4 L1743.3,629.5 L1746.4,607.9 L1752.5,580.2 L1764.8,571.0 L1774.1,549.4Z" fill="#97b6e1"/><path d="M1720.2,627.9 L1734.1,592.5 L1758.7,543.3 L1771.0,549.4 L1746.4,592.5 L1729.4,626.4Z" fill="#97b6e1"/><path d="M1866.5,532.5 L1909.6,555.6 L1918.8,574.1 L1921.9,601.8 L1918.8,629.5 L1903.4,648.0 L1912.7,663.4 L1931.1,632.6 L1949.6,632.6 L1965.0,648.0 L1971.2,678.8 L1983.5,684.9 L2002.0,666.4 L2002.0,648.0 L1995.8,611.0 L2008.1,580.2 L1992.7,555.6 L1986.6,549.4 L2005.1,552.5 L2023.5,580.2 L2063.6,583.3 L2072.8,561.7 L2054.3,534.0 L2023.5,506.3 L1980.4,500.1 L1885.0,503.2 L1878.8,512.5 L1866.5,524.8Z" fill="#97b6e1"/><path d="M1949.6,771.1 L1968.1,783.5 L1992.7,777.3 L2029.7,765.0 L2054.3,740.4 L2085.1,728.0 L2103.6,709.6 L2134.4,675.7 L2125.2,669.5 L2097.4,681.8 L2072.8,694.2 L2042.0,700.3 L2023.5,706.5 L2005.1,728.0 L1980.4,749.6 L1961.9,752.7 L1949.6,758.8Z" fill="#97b6e1"/><path d="M1963.9,714.1 L1983.1,719.3 L1983.1,729.8 L1967.4,733.2 L1960.4,724.5Z" fill="#97b6e1"/><path d="M2089.3,648.0 L2096.2,628.8 L2115.4,613.1 L2134.5,604.4 L2155.4,595.7 L2174.5,583.6 L2193.7,573.1 L2214.6,566.1 L2232.0,555.7 L2244.2,548.7 L2238.9,573.1 L2238.9,594.0 L2240.7,602.7 L2221.5,618.4 L2211.1,625.3 L2186.7,634.0 L2162.4,632.3 L2138.0,635.8 L2122.3,642.7 L2115.4,649.7 L2106.7,654.9 L2094.5,654.9Z" fill="#97b6e1"/><path d="M1655.6,287.0 L1674.1,283.9 L1687.9,299.3 L1686.4,330.1 L1677.2,336.3 L1655.6,330.1 L1649.5,314.7Z" fill="#97b6e1"/><path d="M1428.9,313.6 L1433.4,316.6 L1441.0,331.6 L1453.0,352.7 L1450.0,364.8 L1434.9,376.8 L1425.9,372.3 L1422.9,355.7 L1421.4,333.1 L1434.9,327.1Z" fill="#97b6e1"/><path d="M1473.9,234.7 L1486.2,233.1 L1489.3,240.8 L1481.6,248.5Z" fill="#97b6e1"/><path d="M1544.7,237.8 L1554.0,240.8 L1587.9,233.1 L1572.5,247.0 L1555.5,251.6Z" fill="#97b6e1"/><path d="M2009.8,320.9 L2022.1,317.8 L2031.3,330.1 L2046.7,327.1 L2049.8,339.4 L2025.2,333.2 L2012.8,328.6Z" fill="#97b6e1"/><path d="M2028.2,479.5 L2046.7,471.8 L2068.3,473.3 L2062.1,479.5 L2040.6,481.0Z" fill="#97b6e1"/><path d="M2318.6,257.7 L2327.8,252.5 L2340.2,256.2 L2341.7,263.9 L2330.9,268.5 L2320.1,263.9Z" fill="#97b6e1"/><path d="M2201.6,305.5 L2210.8,293.2 L2226.2,277.8 L2235.5,290.1 L2253.9,296.2 L2244.7,299.3 L2223.2,302.4 L2215.5,311.6 L2210.8,302.4Z" fill="#97b6e1"/><path d="M2161.6,370.1 L2166.2,362.4 L2169.3,379.4 L2183.1,394.8 L2177.0,397.8 L2166.2,388.6 L2160.0,376.3Z" fill="#97b6e1"/><path d="M2357.1,199.2 L2361.7,188.5 L2367.9,182.3 L2374.0,186.9 L2377.1,182.3 L2386.3,182.3 L2401.7,190.0 L2392.5,188.5 L2377.1,191.6 L2364.8,191.6 L2360.2,199.2Z" fill="#97b6e1"/><path d="M107.8,835.6 L113.9,820.2 L120.1,818.6 L126.3,826.3 L135.5,826.3 L157.1,837.1 L135.5,829.4 L117.0,829.4 L115.5,841.7 L120.1,863.3 L109.3,847.9 L107.8,835.6Z" fill="#97b6e1"/><path d="M1297.9,181.0 L1311.4,181.0 L1308.4,194.6 L1300.9,190.1Z" fill="#97b6e1"/><path d="M1317.5,181.0 L1338.6,181.0 L1344.6,194.6 L1349.1,202.1 L1346.1,206.6 L1355.1,220.2 L1364.2,235.2 L1361.1,250.3 L1362.7,272.9 L1355.1,268.4 L1352.1,283.4 L1344.6,288.0 L1338.6,280.4 L1338.6,265.4 L1344.6,248.8 L1341.6,235.2 L1350.6,229.2 L1332.5,223.2 L1328.0,212.7 L1331.0,202.1 L1325.0,188.6 L1317.5,190.1Z" fill="#97b6e1"/><path d="M1474.1,235.2 L1486.1,232.2 L1488.4,239.8 L1481.6,247.3Z" fill="#97b6e1"/><path d="M2138.5,374.7 L2146.2,376.3 L2153.9,379.4 L2146.2,382.4 L2144.6,387.1 L2140.0,382.4Z" fill="#97b6e1"/><path d="M2203.1,410.2 L2207.8,396.3 L2213.9,404.0 L2212.4,411.7Z" fill="#97b6e1"/><path d="M1865.0,381.0 L1874.3,373.3 L1882.0,370.2 L1871.2,382.5Z" fill="#97b6e1"/><path d="M2077.5,385.6 L2080.6,381.0 L2089.8,382.5 L2083.7,388.7Z" fill="#97b6e1"/><path d="M1590.9,370.2 L1597.1,373.3 L1604.8,374.8 L1601.7,381.0 L1594.0,377.9Z" fill="#97b6e1"/><path d="M1778.7,498.6 L1795.6,498.6 L1795.6,481.7 L1829.5,481.7 L1829.5,498.6 L1846.5,498.6 L1846.5,514.0 L1829.5,514.0 L1829.5,530.9 L1778.7,530.9Z" fill="#e1edf3"/><path d="M1198.9,701.6 L1266.7,701.6 L1266.7,735.5 L1283.6,735.5 L1283.6,752.4 L1302.1,752.4 L1302.1,769.4 L1319.0,769.4 L1319.0,803.2 L1302.1,803.2 L1302.1,837.1 L1285.1,837.1 L1285.1,854.1 L1182.0,854.1 L1182.0,837.1 L1165.0,837.1 L1165.0,820.2 L1148.1,820.2 L1148.1,837.1 L1114.2,837.1 L1114.2,887.9 L1063.4,887.9 L1063.4,871.0 L1046.5,871.0 L1046.5,837.1 L1063.4,837.1 L1063.4,820.2 L1080.3,820.2 L1080.3,803.2 L1097.3,803.2 L1097.3,786.3 L1114.2,786.3 L1114.2,769.4 L1131.1,769.4 L1131.1,786.3 L1148.1,786.3 L1148.1,769.4 L1165.0,769.4 L1165.0,735.5 L1198.9,735.5Z" fill="#e1edf3"/><path d="M978.7,752.4 L994.1,752.4 L994.1,767.8 L978.7,767.8Z" fill="#e1edf3"/><path d="M1234.3,972.6 L1268.2,972.6 L1268.2,989.6 L1234.3,989.6Z" fill="#e1edf3"/><path d="M688.5,479.6 L721.7,479.6 L721.7,496.7 L738.8,496.7 L738.8,531.0 L755.9,531.0 L755.9,548.1 L790.2,548.1 L790.2,565.3 L807.3,565.3 L807.3,581.3 L824.5,581.3 L824.5,598.5 L840.5,598.5 L840.5,615.6 L857.6,615.6 L857.6,632.7 L910.1,632.7 L910.1,649.9 L927.2,649.9 L927.2,667.0 L893.0,667.0 L893.0,684.1 L874.8,684.1 L874.8,667.0 L773.1,667.0 L773.1,684.1 L755.9,684.1 L755.9,701.2 L738.8,701.2 L738.8,718.4 L721.7,718.4 L721.7,734.4 L688.5,734.4 L688.5,701.2 L671.3,701.2 L671.3,632.7 L721.7,632.7 L721.7,615.6 L654.2,615.6 L654.2,598.5 L602.8,598.5 L602.8,513.9 L671.3,513.9 L671.3,496.7 L688.5,496.7Z" fill="#e1edf3"/><path d="M1198.9,1057.3 L1234.3,1057.3 L1234.3,1040.4 L1251.3,1040.4 L1251.3,1057.3 L1268.2,1057.3 L1268.2,1074.2 L1285.1,1074.2 L1285.1,1092.3 L1319.0,1092.3 L1319.0,1126.2 L1285.1,1126.2 L1285.1,1109.3 L1217.4,1109.3 L1217.4,1092.3 L1198.9,1092.3Z" fill="#e1edf3"/><path d="M2135.6,1770.0 L2153.3,1770.0 L2153.3,1786.3 L2135.6,1786.3Z" fill="#e1edf3"/><path d="M2169.6,1770.0 L2187.4,1770.0 L2187.4,1786.3 L2169.6,1786.3Z" fill="#e1edf3"/><path d="M2203.7,1770.0 L2221.5,1770.0 L2221.5,1786.3 L2203.7,1786.3Z" fill="#e1edf3"/><path d="M2672.5,235.2 L2678.6,251.3 L2682.6,263.4 L2692.6,267.4 L2696.6,259.3 L2710.7,259.3 L2728.8,253.3 L2762.9,239.3 L2750.9,259.3 L2754.9,271.4 L2740.8,277.4 L2728.8,271.4 L2710.7,275.4 L2696.6,271.4 L2680.6,273.4 L2666.5,265.4 L2664.5,251.3Z" fill="#efefdb" class="coast" style="fill:#efefdb"/><path d="M2742.8,181.0 L2750.9,183.0 L2752.9,191.1 L2746.9,195.1 L2743.8,189.1Z" fill="#efefdb" class="coast" style="fill:#efefdb"/><path d="M129.3,1089.2 L138.6,1092.3 L144.7,1101.6 L152.4,1100.0 L147.8,1095.4 L138.6,1093.9Z" fill="#efefdb" class="coast" style="fill:#efefdb"/><path d="M157.1,1096.9 L166.3,1098.5 L175.5,1104.6 L160.1,1103.1Z" fill="#efefdb" class="coast" style="fill:#efefdb"/><path d="M157.1,1147.8 L166.3,1153.9 L161.7,1155.5Z" fill="#efefdb" class="coast" style="fill:#efefdb"/><path d="M212.5,1150.8 L221.7,1157.0 L224.8,1164.7 L215.6,1161.6Z" fill="#efefdb" class="coast" style="fill:#efefdb"/><path d="M203.3,1178.5 L207.9,1178.5 L212.5,1193.9 L206.3,1190.9Z" fill="#efefdb" class="coast" style="fill:#efefdb"/><path d="M144.7,1411.1 L150.9,1414.1 L152.4,1424.9 L147.8,1431.1 L144.1,1421.8Z" fill="#efefdb" class="coast" style="fill:#efefdb"/><path d="M291.0,1521.9 L300.3,1508.1 L304.9,1514.2 L303.3,1526.5 L297.2,1529.6Z" fill="#efefdb" class="coast" style="fill:#efefdb"/><path d="M406.5,1455.7 L412.7,1457.3 L418.8,1474.2 L426.5,1477.3 L425.0,1492.7 L412.7,1477.3 L407.1,1465.0Z" fill="#efefdb" class="coast" style="fill:#efefdb"/><path d="M461.9,1492.7 L477.3,1491.1 L475.8,1505.0 L468.1,1520.4 L457.3,1511.1Z" fill="#efefdb" class="coast" style="fill:#efefdb"/><path d="M2114.8,1941.8 L2129.6,1932.9 L2165.2,1921.1 L2197.8,1906.3 L2227.4,1904.8 L2248.1,1900.3 L2254.1,1906.3 L2283.7,1897.4 L2301.5,1904.8 L2319.2,1900.3 L2334.1,1904.8 L2351.8,1912.2 L2375.5,1925.5 L2408.1,1921.1 L2440.7,1930.0 L2461.4,1941.8Z" fill="#efefdb" class="coast" style="fill:#efefdb"/><path d="M2405.2,1910.7 L2425.9,1906.3 L2440.7,1912.2 L2479.2,1927.0 L2476.3,1937.4 L2461.4,1932.9 L2443.7,1921.1 L2408.1,1913.7Z" fill="#efefdb" class="coast" style="fill:#efefdb"/><path d="M2334.1,1651.5 L2351.8,1660.4 L2396.3,1639.6 L2393.3,1635.2 L2354.8,1641.1Z" fill="#efefdb" class="coast" style="fill:#efefdb"/><path d="M2390.3,1624.8 L2414.0,1620.4 L2443.7,1635.2 L2449.6,1648.5 L2443.7,1657.4 L2446.6,1679.6 L2431.8,1673.7 L2437.7,1660.4 L2434.8,1636.7 L2414.0,1624.8Z" fill="#efefdb" class="coast" style="fill:#efefdb"/><path d="M2397.7,1734.4 L2411.1,1735.9 L2428.9,1761.1 L2436.3,1775.9 L2421.4,1789.2 L2405.2,1778.9 L2393.3,1772.9 L2402.2,1764.1 L2399.2,1743.3Z" fill="#efefdb" class="coast" style="fill:#efefdb"/><path d="M2422.9,1790.7 L2440.7,1786.3 L2458.5,1808.5 L2457.0,1820.3 L2443.7,1821.8 L2431.8,1802.6Z" fill="#efefdb" class="coast" style="fill:#efefdb"/><path d="M2728.1,1927.0 L2734.0,1918.1 L2751.8,1915.1 L2763.6,1906.3 L2760.7,1927.0 L2731.0,1938.8Z" fill="#efefdb" class="coast" style="fill:#efefdb"/><path d="M2801.1,180.0 L2793.0,235.2 L2797.1,259.3 L2809.1,271.4 L2821.2,269.4 L2821.2,180.0Z" fill="#efefdb" class="coast" style="fill:#efefdb"/><path d="M2510.1,666.0 L2524.6,658.8 L2516.1,656.4 L2511.3,662.4Z" fill="#efefdb" class="coast" style="fill:#efefdb"/><path d="M2536.6,661.2 L2551.1,658.8 L2545.1,651.6Z" fill="#efefdb" class="coast" style="fill:#efefdb"/><path d="M217.1,330.1 L237.1,336.3 L246.4,345.5 L255.6,351.7 L257.1,382.5 L278.7,393.3 L295.6,391.7 L320.3,405.6 L357.2,410.2 L391.1,409.6 L412.7,411.8 L498.9,434.8M540.5,259.3 L498.9,413.3 L498.9,434.8M498.9,434.8 L509.7,454.9 L480.4,496.4 L461.9,518.0 L468.1,539.6 L455.8,570.4 L441.9,630.1 L443.5,620.0 L428.1,667.7M579.0,271.6 L565.1,327.1 L572.8,367.1 L597.4,413.3 L612.8,424.1 L600.5,468.7 L591.3,481.0 L597.4,490.3 L612.8,484.1 L619.0,493.4 L625.2,533.4 L640.6,570.4 L700.0,573.4M118.6,568.8 L301.8,630.1 L261.8,620.0 L297.2,630.8 L428.1,667.7 L560.5,703.2 L689.8,729.3 L700.0,730.9M237.8,191.5 L246.6,199.3 L254.3,206.0 L263.1,213.8 L271.8,220.6 L282.5,223.5 L293.1,221.6 L297.0,215.8 L304.8,187.6 L303.8,179.9M634.4,182.3 L648.3,200.8 L646.7,240.8 L640.6,247.0 L643.6,271.6 L659.0,287.0M843.2,180.8 L817.0,320.9M1163.5,179.2 L1158.9,364.6M1054.2,359.4 L1051.1,379.4 L1040.3,478.0 L1035.7,539.6 L1028.0,596.5 L1023.4,630.1M727.7,553.4 L1028.0,596.5M727.7,553.4 L718.5,579.6 L712.3,630.1M1325.2,373.3 L1329.8,425.6 L1340.6,459.5 L1342.1,524.2 L1349.8,548.8 L1346.7,570.4 L1337.5,579.6 L1352.9,598.1 L1352.9,630.1M1038.8,541.1 L1346.7,559.6M1500.0,395.4 L1518.5,413.9 L1533.9,412.4 L1558.5,426.2 L1583.2,417.0 L1592.4,421.6 L1613.9,420.1 L1629.3,427.8 L1684.8,404.7 L1832.6,472.4 L1851.1,484.7 L1869.6,497.1 L1885.0,518.6 L1903.4,524.8 L1943.5,549.4 L1961.9,580.2 L1980.4,635.6 L1983.5,678.8 L1977.3,684.9 L1975.8,715.7 L1955.8,737.3 L1952.7,755.8 L1974.3,777.3 L2023.5,740.4 L2072.8,703.4 L2103.6,688.0 L2134.4,672.6 L2119.0,648.0 L2128.2,623.3 L2200.0,607.9M1540.0,507.8 L1530.8,515.5 L1530.8,549.4 L1512.3,561.7 L1506.2,577.1 L1513.9,586.4 L1512.3,626.4 L1521.6,638.7 L1549.3,654.1 L1561.6,669.5 L1577.0,675.7 L1583.2,691.1 L1589.3,715.7 L1592.4,746.5 L1607.8,752.7 L1617.0,765.0 L1635.5,789.6 L1638.6,800.1M1500.0,706.5 L1580.1,703.4M1617.0,761.9 L1740.2,752.7M1607.8,517.1 L1623.2,527.9 L1669.4,540.2 L1697.1,543.3 L1715.6,555.6 L1724.8,574.1 L1734.1,592.5M1792.6,792.7 L1881.9,783.5 L1946.5,774.2M1881.9,783.5 L1885.0,800.1M2069.7,737.3 L2085.1,800.1M2103.6,728.0 L2200.0,709.6M2003.6,182.3 L2012.8,216.2 L2019.0,250.1 L2031.3,299.3 L2038.9,343.1 L2048.2,401.6 L2063.6,426.2 L2094.4,457.0 L2143.6,463.2 L2162.1,475.5 L2180.6,472.4 L2200.0,490.9 L2223.2,487.1 L2272.4,462.5 L2287.8,465.6 L2287.8,481.0M1407.7,182.3 L1407.7,351.7M2281.7,501.0 L2414.0,464.0 L2426.4,440.9 L2441.8,425.5 L2447.9,394.8 L2443.3,373.2 L2447.9,348.6 L2460.2,293.2 L2469.5,290.1 L2478.7,302.4 L2500.3,283.9 L2524.9,293.2 L2552.6,367.0 L2571.1,385.5 L2580.3,391.7M2487.9,280.8 L2484.9,253.1 L2500.3,240.8 L2512.6,237.7 L2543.4,231.6M2340.2,490.2 L2352.5,533.3 L2361.7,567.2 L2370.9,576.4 L2380.2,616.4 L2380.2,630.0M2414.0,464.0 L2421.7,490.2 L2407.9,508.7 L2407.9,539.5 L2404.8,567.2 L2411.0,604.1M2429.4,440.9 L2438.7,465.6 L2463.3,533.3 L2477.2,557.9M2380.2,614.9 L2411.0,605.7 L2463.3,594.9 L2481.8,576.4M297.2,630.8 L243.3,804.8 L412.7,1080.1M560.5,703.2 L489.7,1001.9 L477.3,1048.1 L468.1,1054.2 L458.9,1045.0 L443.5,1048.1 L440.4,1080.1M697.5,693.9 L682.1,792.5 L700.0,795.5M489.7,1001.9 L700.0,1043.4M1026.4,620.0 L1014.1,718.5 L1001.8,840.2M1014.1,718.5 L1263.6,736.4 L1285.1,747.8 L1303.6,744.7 L1315.9,746.3 L1343.6,761.7M1352.9,620.0 L1352.9,709.3 L1346.7,712.4 L1352.9,730.9 L1343.6,758.6M1348.3,708.7 L1400.0,708.7M1343.6,761.7 L1356.0,774.0 L1359.0,792.5 L1368.3,810.9 L1369.8,829.4 L1377.5,841.7 L1379.1,875.6 L1389.8,897.2 L1392.9,906.4 L1400.0,915.6M703.1,795.5 L770.8,809.4 L1001.8,840.2 L1092.7,849.4 L1089.6,909.5 L1396.0,921.8M1089.6,909.5 L1075.7,1080.1M770.8,809.4 L730.8,1048.1 L726.2,1080.1M704.6,1045.0 L730.8,1048.1 L964.8,1080.1M715.4,620.0 L700.0,703.2M1389.8,884.8 L1400.0,884.8M1510.9,623.1 L1513.9,632.3 L1544.7,650.8 L1560.1,666.2 L1578.6,677.0 L1584.8,706.2 L1589.4,718.5 L1587.9,737.0 L1597.1,747.8 L1612.5,755.5 L1615.6,763.2 L1637.1,789.4 L1631.0,810.9 L1624.8,820.2 L1600.2,832.5 L1598.6,844.8 L1603.3,854.1 L1597.1,866.4 L1584.8,887.9 L1583.2,897.2 L1584.8,921.8 L1590.9,934.1 L1615.6,952.6 L1627.9,977.2 L1634.1,980.3 L1652.5,983.4 L1643.3,1017.3 L1655.6,1032.7 L1680.2,1048.1 L1689.5,1063.5 L1691.0,1080.1M1615.6,763.2 L1741.8,752.4M1400.0,884.8 L1569.4,880.2 L1583.2,892.5M1400.0,915.6 L1421.6,931.0 L1415.4,946.4 L1427.7,968.0 L1437.0,974.2 L1438.5,1080.1M1757.2,801.7 L1761.9,835.6 L1772.6,937.2 L1769.6,955.7 L1777.3,974.2 L1772.6,995.7 L1757.2,1014.2 L1757.2,1038.8 L1754.2,1057.3 L1738.8,1072.7 L1735.7,1080.1M1794.2,790.9 L1882.0,781.7 L1945.1,774.0M1882.0,781.7 L1902.0,940.3M1757.2,1038.8 L1778.8,1029.6 L1800.4,1032.7 L1812.7,1023.4 L1825.0,1026.5 L1834.2,1011.1 L1852.7,1017.3 L1865.0,995.7 L1877.3,971.1 L1889.7,968.0 L1905.1,958.8 L1902.0,940.3 L1923.5,941.8 L1935.9,955.7 L1960.5,960.3 L1979.0,960.3 L1997.4,952.6 L2015.9,968.0 L2015.9,983.4 L2034.4,1005.0 L2049.8,1017.3 L2062.1,1029.6 L2074.4,1034.2 L2086.8,1025.0 L2100.0,1026.5M2015.9,968.0 L2028.2,952.6 L2034.4,928.0 L2046.7,921.8 L2059.0,900.2 L2080.6,881.8 L2086.8,835.6 L2083.7,823.3M2071.4,737.0 L2100.0,872.5M2046.7,1023.4 L2003.6,1063.5 L1994.4,1080.1M2012.8,1080.1 L2100.0,1066.5M2112.3,727.8 L2297.0,686.2 L2312.4,690.8 L2324.8,709.3 L2337.1,715.4 L2327.8,743.2 L2329.4,761.6 L2355.5,787.8M2337.1,712.4 L2377.1,726.2M2100.0,715.4 L2112.3,727.8M2380.2,620.0 L2383.3,656.9 L2392.5,706.2 L2389.4,721.6M2383.3,658.5 L2475.6,633.9 L2484.9,650.8M2457.1,640.0 L2467.9,677.0M2100.0,872.5 L2315.5,823.2 L2327.8,814.0M2315.5,823.2 L2337.1,897.1 L2367.9,890.9M2146.2,863.2 L2152.3,890.9 L2177.0,866.3 L2201.6,860.2 L2213.9,850.9 L2223.2,854.0 L2232.4,875.5 L2266.3,884.8 L2275.5,887.9M2201.6,866.3 L2198.5,890.9 L2180.1,912.5 L2170.8,937.1 L2152.3,934.0 L2133.9,992.5 L2127.7,1007.9 L2100.0,1023.3M2100.0,1066.4 L2352.5,1014.1M267.9,1227.8 L391.1,1249.4 L385.0,1260.2 L566.7,1375.6 L671.4,1394.1 L700.0,1400.3M409.6,1080.0 L431.1,1109.3 L440.4,1086.2M431.1,1109.3 L437.3,1147.8 L446.5,1157.0 L425.0,1175.5 L418.8,1193.9 L403.4,1212.4 L403.4,1224.7 L409.6,1240.1 L400.4,1249.4 L391.1,1249.4M699.1,1227.8 L671.4,1394.1M726.2,1080.0 L700.0,1240.1M1026.4,1089.2 L1021.8,1118.5 L992.6,1395.7M1021.8,1118.5 L1171.2,1130.8 L1165.0,1247.8M1165.0,1247.8 L1180.4,1261.7 L1198.9,1258.6 L1205.1,1272.5 L1223.5,1277.1 L1242.0,1281.7 L1263.6,1280.2 L1272.8,1295.6 L1285.1,1289.4 L1306.7,1298.7 L1315.9,1294.0 L1334.4,1297.1 L1352.9,1307.9 L1371.4,1298.7 L1389.8,1294.0 L1400.0,1298.7M931.0,1080.0 L1074.2,1092.3 L1400.0,1106.2M700.0,1400.3 L715.4,1401.8 L723.1,1375.6 L806.2,1386.4M803.2,1372.6 L992.6,1395.7M806.2,1386.4 L823.2,1409.5 L857.1,1443.4 L881.7,1465.0 L890.9,1480.4 L897.1,1517.3 L906.3,1540.1M1400.0,1104.6 L1437.0,1104.6M1438.5,1080.0 L1438.5,1135.4 L1449.3,1203.2 L1447.7,1307.9M1438.5,1135.4 L1658.7,1127.7 L1664.8,1140.1 L1651.0,1158.5 L1686.4,1157.0M1689.5,1080.0 L1704.9,1092.3 L1708.0,1110.8 L1692.6,1123.1 L1686.4,1157.0 L1674.1,1178.5 L1667.9,1209.3 L1661.8,1218.6 L1646.4,1240.1 L1644.8,1258.6 L1631.0,1274.0 L1624.8,1289.4 L1618.7,1307.9 L1621.7,1329.5 L1621.7,1347.9 L1627.9,1375.6 L1635.6,1386.4 L1615.6,1418.8 L1603.3,1471.1M1692.6,1123.1 L1760.3,1118.5 L1764.9,1109.3 L2034.4,1080.0M1661.8,1218.6 L1892.7,1197.0 L2019.0,1180.1 L2056.0,1161.6 L2100.0,1155.5M1769.6,1212.4 L1771.1,1409.5 L1781.9,1498.8M1892.7,1197.0 L1923.5,1295.6 L1951.3,1357.2 L1945.1,1388.0 L1951.3,1409.5 L1954.3,1440.3 L1966.7,1455.7M1820.4,1455.7 L1954.3,1440.3M1966.7,1455.7 L2100.0,1446.5M1400.0,1298.7 L1409.2,1292.5 L1433.9,1307.9 L1449.3,1314.1 L1470.8,1317.1M1470.8,1351.0 L1621.7,1344.8M1470.8,1317.1 L1470.8,1412.6 L1483.2,1424.9 L1492.4,1449.6 L1501.6,1471.1 L1492.4,1505.0 L1489.3,1540.1 L1485.7,1549.0M1603.3,1471.1 L1701.8,1466.5 L1704.9,1486.5 L1717.2,1514.2M1820.4,1455.7 L1821.9,1468.0 L1831.1,1480.4 L1831.1,1492.7M2019.0,1180.1 L2012.8,1200.1 L2037.5,1209.3 L2059.0,1234.0 L2077.5,1252.5 L2100.0,1267.9M2077.5,1080.0 L2046.7,1117.0 L2000.5,1141.6 L1972.8,1160.1 L1960.5,1181.6M2100.0,1155.4 L2123.1,1152.4 L2140.0,1169.3 L2195.4,1161.6 L2261.6,1203.2M2100.0,1267.8 L2118.5,1283.2 L2130.8,1307.8 L2149.3,1326.3 L2161.6,1340.2 L2166.2,1341.7M2100.0,1444.8 L2113.9,1446.4 L2121.6,1431.0 L2146.2,1427.9M2374.0,1101.6 L2395.6,1086.2M898.6,1530.0 L907.2,1538.6 L927.4,1557.3 L944.7,1567.4 L964.8,1581.8 L976.3,1578.9 L987.8,1564.5 L996.5,1544.4 L1008.0,1537.2 L1025.2,1532.9 L1036.8,1538.6 L1068.4,1541.5 L1079.9,1553.0 L1103.0,1578.9 L1111.6,1593.3 L1123.1,1619.2 L1126.0,1633.6 L1143.3,1656.6 L1160.5,1679.7 L1166.3,1685.4 L1169.2,1714.2 L1177.8,1731.5 L1183.6,1748.8 L1189.3,1760.3 L1212.3,1771.8 L1235.4,1783.3 L1261.3,1789.0 L1287.2,1800.6 L1298.7,1789.0M1540.0,507.8 L1570.8,475.5 L1592.4,450.9 L1629.3,429.3 L1647.8,420.1 L1650.9,398.5 L1675.5,380.0 L1684.8,363.1 L1709.4,367.7 L1758.7,367.7 L1777.2,398.5 L1795.6,412.4 L1829.5,410.8 L1826.4,432.4 L1844.9,444.7 L1841.8,469.3 L1857.2,472.4 L1854.2,490.9 L1851.1,500.1 L1832.6,494.0 L1829.5,481.7 L1820.3,481.7 L1795.6,489.4 L1778.7,498.6 L1764.8,506.3 L1743.3,507.8 L1727.9,495.5 L1715.6,486.3 L1690.9,487.8 L1684.8,472.4 L1715.6,452.4 L1700.2,453.9 L1678.6,469.3 L1663.2,481.7 L1650.9,494.0 L1623.2,500.1 L1607.8,517.1 L1589.3,512.5 L1561.6,503.2 L1540.0,507.8M1795.6,537.1 L1844.9,530.9 L1844.9,537.1 L1838.8,564.8 L1823.4,586.4 L1801.8,583.3 L1795.6,611.0 L1795.6,648.0 L1791.0,675.7 L1808.0,715.7 L1811.0,740.4 L1804.9,765.0 L1795.6,783.5 L1777.2,795.8 L1761.8,795.8 L1749.5,783.5 L1743.3,765.0 L1740.2,740.4 L1734.1,709.6 L1737.1,666.4 L1743.3,629.5 L1746.4,607.9 L1752.5,580.2 L1764.8,571.0 L1774.1,549.4 L1795.6,537.1M1866.5,532.5 L1909.6,555.6 L1918.8,574.1 L1921.9,601.8 L1918.8,629.5 L1903.4,648.0 L1912.7,663.4 L1931.1,632.6 L1949.6,632.6 L1965.0,648.0 L1971.2,678.8 L1983.5,684.9 L2002.0,666.4 L2002.0,648.0 L1995.8,611.0 L2008.1,580.2 L1992.7,555.6 L1986.6,549.4 L2005.1,552.5 L2023.5,580.2 L2063.6,583.3 L2072.8,561.7 L2054.3,534.0 L2023.5,506.3 L1980.4,500.1 L1885.0,503.2 L1878.8,512.5 L1866.5,524.8 L1866.5,532.5M1949.6,771.1 L1968.1,783.5 L1992.7,777.3 L2029.7,765.0 L2054.3,740.4 L2085.1,728.0 L2103.6,709.6 L2134.4,675.7 L2125.2,669.5 L2097.4,681.8 L2072.8,694.2 L2042.0,700.3 L2023.5,706.5 L2005.1,728.0 L1980.4,749.6 L1961.9,752.7 L1949.6,758.8 L1949.6,771.1M2089.3,648.0 L2096.2,628.8 L2115.4,613.1 L2134.5,604.4 L2155.4,595.7 L2174.5,583.6 L2193.7,573.1 L2214.6,566.1 L2232.0,555.7 L2244.2,548.7 L2238.9,573.1 L2238.9,594.0 L2240.7,602.7 L2221.5,618.4 L2211.1,625.3 L2186.7,634.0 L2162.4,632.3 L2138.0,635.8 L2122.3,642.7 L2115.4,649.7 L2106.7,654.9 L2094.5,654.9 L2089.3,648.0M1720.2,627.9 L1734.1,592.5 L1758.7,543.3 L1771.0,549.4 L1746.4,592.5 L1729.4,626.4 L1720.2,627.9M1963.9,714.1 L1983.1,719.3 L1983.1,729.8 L1967.4,733.2 L1960.4,724.5 L1963.9,714.1M1400.0,707.8 L1581.7,703.2M691.7,572.8 L703.5,576.0 L707.8,566.3 L715.2,568.5 L719.5,579.2 L724.9,574.9 L728.1,554.6" class="dot"/><path d="M320.3,190.0 L538.9,257.8 L656.0,287.0 L700.0,297.8 L700.0,297.8 L817.0,320.9 L924.8,339.4 L1054.2,356.3 L1158.9,364.6 L1325.2,373.3 L1400.0,373.9 L1400.0,374.8 L1407.7,374.8 L1407.7,351.7 L1420.0,354.8 L1427.7,385.6 L1461.6,397.9 L1483.2,394.8 L1501.6,399.4 L1513.9,404.1 L1523.2,414.8 L1532.4,411.8 L1557.1,427.1 L1581.7,416.4 L1590.9,422.5 L1615.6,421.0 L1627.9,425.6 L1643.3,424.1" class="dot" style="stroke-dasharray:9 3"/><path d="M318.4,179.9 L323.2,185.7 L326.1,204.1 L322.3,221.6 L321.3,238.1 L323.2,251.7 L313.5,262.3 L308.7,276.9 L306.7,287.6 L297.0,293.4 L286.4,298.2 L275.7,292.4 L287.3,284.6 L300.9,281.7 L302.9,267.2 L297.0,258.4 L277.6,272.0 L274.7,277.9 L285.4,276.9 L296.1,267.2 L304.8,252.6 L305.8,238.1 L298.0,240.0 L293.1,235.2 L285.4,231.3 L257.2,217.7 L253.4,213.8 L235.9,197.3 L229.4,213.1 L227.9,225.4 L232.5,236.2 L229.4,280.9 L226.4,287.0 L238.7,291.6 L226.4,296.3 L231.0,305.5 L221.7,320.9 L215.6,327.1 L217.1,330.1 L212.5,342.5 L203.3,373.3 L184.8,404.1 L175.5,431.8 L157.1,471.8 L144.7,487.2 L121.6,514.9 L123.2,530.3 L115.5,551.9 L115.5,565.7 L118.6,568.8 L112.4,582.7 L115.5,598.1 L112.4,607.3 L98.5,630.1 L98.5,630.1 L98.5,629.2 L89.3,641.6 L77.0,653.9 L75.5,666.2 L84.7,690.8 L87.8,706.2 L80.1,724.7 L78.5,743.2 L73.9,752.4 L86.2,780.1 L92.4,789.4 L92.4,801.7 L95.5,810.9 L87.8,817.1 L92.4,814.0 L107.8,835.6 L101.6,854.1 L98.5,872.5 L104.7,887.9 L118.6,897.2 L117.0,909.5 L107.8,918.7 L106.2,931.0 L115.5,952.6 L120.1,977.2 L132.4,998.8 L135.5,1005.0 L132.4,1014.2 L141.7,1023.4 L135.5,1035.8 L132.4,1054.2 L138.6,1063.5 L154.0,1069.6 L172.5,1080.1 L172.5,1080.0 L190.9,1095.4 L194.0,1104.6 L209.4,1113.9 L224.8,1120.0 L229.4,1138.5 L227.9,1140.1 L240.2,1141.6 L252.5,1157.0 L267.9,1181.6 L271.0,1200.1 L266.4,1215.5 L271.0,1224.7 L269.5,1240.1 L274.1,1252.5 L275.6,1264.8 L283.3,1277.1 L277.2,1283.3 L289.5,1314.1 L286.4,1332.5 L295.6,1347.9 L292.6,1369.5 L300.3,1381.8 L297.2,1403.4 L300.3,1415.7 L320.3,1440.3 L332.6,1449.6 L357.2,1495.8 L366.5,1514.2 L354.2,1540.1M1954.3,191.6 L1969.7,179.2 L1994.4,182.3 L2015.9,202.3M2281.7,501.0 L2315.5,462.5 L2327.8,431.7 L2334.0,407.1 L2361.7,382.4 L2370.9,370.1 L2395.6,354.7 L2407.9,336.3 L2426.4,299.3 L2438.7,265.4 L2454.1,237.7 L2469.5,213.1 L2509.5,177.7M2284.7,499.4 L2324.8,453.3 L2330.9,416.3 L2352.5,394.8 L2395.6,351.7 L2407.9,330.1 L2420.2,299.3 L2426.4,262.4 L2438.7,222.3 L2451.0,197.7 L2466.4,177.7M2370.9,256.2 L2426.4,257.7M2616.9,177.6 L2608.3,191.1 L2598.2,203.1 L2574.1,202.1 L2568.1,211.1 L2556.1,214.2 L2544.0,225.2 L2560.1,217.2 L2586.2,218.2 L2596.2,228.2 L2606.3,215.2 L2616.3,210.1 L2628.4,210.1 L2626.4,241.3 L2620.3,255.3 L2638.4,250.3 L2640.4,261.4 L2652.5,271.4 L2668.5,291.5 L2696.6,286.5 L2692.6,301.5 L2710.7,300.5 L2730.8,295.5 L2752.9,294.5 L2766.9,291.5 L2779.0,271.4 L2793.0,279.4 L2803.1,273.4 L2821.2,269.4M2821.2,295.5 L2801.1,315.6 L2781.0,335.7 L2756.9,355.7 L2740.8,365.8 L2748.9,373.8 L2730.8,373.8 L2720.7,381.9 L2724.8,395.9 L2716.7,416.0 L2708.7,436.1 L2700.7,452.1 L2684.6,464.2 L2668.5,456.2 L2656.5,442.1 L2650.5,426.0 L2648.4,406.0 L2652.5,395.9 L2664.5,385.9 L2680.6,359.8 L2698.7,343.7 L2712.7,353.7 L2708.7,339.7 L2736.8,322.6 L2700.7,333.7 L2684.6,341.7 L2688.6,305.5 L2672.5,309.6 L2668.5,331.6 L2656.5,341.7 L2636.4,371.8 L2624.3,375.8 L2616.3,381.9 L2600.2,391.9 L2588.2,393.9 L2592.2,399.9 L2598.2,414.0 L2584.2,428.0 L2566.1,446.1 L2550.0,456.2 L2540.0,462.2 L2546.4,465.6 L2534.1,456.3 L2531.0,481.0 L2521.8,490.2 L2500.3,505.6 L2491.0,521.0 L2484.9,561.0M2801.1,180.0 L2793.0,235.2 L2797.1,259.3 L2809.1,271.4 L2821.2,269.4M107.8,835.6 L113.9,820.2 L120.1,818.6 L126.3,826.3 L135.5,826.3 L157.1,837.1 L135.5,829.4 L117.0,829.4 L115.5,841.7 L120.1,863.3 L109.3,847.9 L107.8,835.6M2384.1,751.1 L2396.1,728.2 L2405.2,722.2 L2414.2,721.0 L2420.2,716.1 L2438.3,711.3 L2450.4,696.9 L2451.6,702.9 L2468.4,697.5 L2444.3,718.6 L2420.2,739.0 L2408.2,738.4 L2393.1,748.1 L2384.1,751.1M2384.1,734.2 L2393.7,723.4 L2405.2,710.7 L2417.2,701.7 L2420.2,697.5 L2438.3,692.0 L2444.3,687.8 L2450.4,687.8 L2462.4,681.8 L2469.2,681.7 L2478.8,675.7 L2482.4,668.4 L2488.4,663.6 L2500.5,656.4 L2510.1,643.1 L2512.5,649.2 L2524.6,641.9 L2543.9,632.3 L2536.6,619.0 L2524.6,614.2 L2527.0,616.6 L2536.6,627.5 L2524.6,637.1 L2514.9,632.3 L2506.5,625.1 L2495.7,613.0 L2482.4,611.8 L2488.4,594.9 L2495.7,588.9 L2483.6,580.5 L2482.4,567.2 L2486.0,560.0M2373.3,712.5 L2379.9,719.2 L2381.7,734.2 L2378.1,746.3 L2372.0,758.3 L2375.1,763.1 L2385.3,760.1 L2390.1,770.0 L2383.9,763.9 L2389.3,782.7 L2389.3,809.5 L2393.6,800.0M2327.5,826.1 L2337.9,843.5 L2344.9,855.7 L2360.5,873.1 L2365.8,883.6 L2369.3,894.0 L2367.5,907.9 L2364.0,925.3 L2362.3,939.3 L2357.1,953.2 L2351.8,974.1 L2348.4,979.3 L2343.1,974.1 L2344.9,956.7 L2351.8,934.0 L2348.4,925.3 L2339.7,921.8 L2332.7,907.9 L2324.0,911.4 L2313.6,906.2 L2308.3,897.5 L2311.8,892.3 L2322.3,892.3 L2308.3,883.6 L2304.8,873.1 L2301.4,860.9 L2306.6,848.7 L2308.3,838.3 L2311.8,834.8 L2306.6,840.0 L2296.1,847.0 L2285.7,859.2 L2292.7,869.6 L2296.1,887.0 L2299.6,897.5 L2308.3,913.1 L2315.3,927.1M2271.8,885.3 L2264.8,904.4 L2264.8,921.8 L2275.3,914.9 L2285.7,921.8 L2313.6,928.8M2290.9,901.0 L2299.6,913.1 L2313.6,925.3M2282.2,982.8 L2310.1,982.8 L2324.0,998.4 L2346.6,993.2 L2355.3,1005.4 L2369.3,1026.3 L2386.7,1060.1 L2386.3,1054.1 L2395.6,1080.0M2321.7,1044.9 L2327.8,1060.3 L2346.3,1054.1 L2364.8,1057.2 L2370.9,1048.0 L2352.5,1035.6M431.1,1540.1 L425.0,1529.6 L418.8,1508.1 L409.6,1505.0 L403.4,1486.5 L394.2,1461.9 L381.9,1440.3 L369.6,1428.0 L361.9,1406.4 L366.5,1384.9 L363.4,1341.8 L375.7,1311.0 L372.6,1295.6M372.6,1295.6 L378.8,1304.8 L400.4,1326.4 L409.6,1331.0 L418.8,1324.8 L431.1,1335.6 L431.1,1347.9 L458.9,1360.2 L458.9,1366.4 L452.7,1391.0 L461.9,1440.3 L471.2,1471.1 L474.3,1505.0 L486.6,1520.4 L492.7,1540.1M1671.0,1521.9 L1683.3,1506.5 L1695.6,1508.1 L1708.0,1517.3 L1717.2,1514.2 L1732.6,1505.0 L1754.2,1498.8 L1794.2,1497.3 L1800.4,1477.3 L1806.5,1486.5 L1812.7,1498.8 L1828.1,1495.8 L1843.5,1489.6 L1871.2,1486.5 L1892.7,1480.4 L1902.0,1483.4 L1929.7,1495.8 L1951.3,1523.5 L1966.7,1523.5 L1985.1,1514.2 L2000.5,1501.9 L2003.6,1492.7 L2019.0,1488.1 L2040.6,1495.8 L2068.3,1520.4 L2100.0,1541.9M1671.0,1521.9 L1686.4,1528.1 L1701.8,1520.4 L1708.0,1517.3 L1714.1,1532.7 L1729.5,1535.8 L1732.6,1520.4 L1738.8,1517.3M2370.9,1080.0 L2361.7,1089.2 L2346.3,1089.2 L2340.2,1083.1 L2337.1,1092.3 L2318.6,1089.2 L2346.3,1098.5 L2343.2,1110.8 L2321.7,1110.8 L2334.0,1120.0 L2355.5,1116.9 L2364.8,1113.9 L2355.5,1135.4 L2324.8,1138.5 L2315.5,1150.8 L2300.1,1169.3 L2292.4,1184.7 L2294.0,1197.0 L2272.4,1200.1 L2260.1,1206.2 L2244.7,1224.7 L2238.5,1243.2 L2238.5,1255.5 L2223.2,1267.8 L2207.8,1284.7 L2198.5,1298.6 L2180.1,1307.8 L2170.8,1320.2 L2173.9,1326.3 L2167.7,1335.5 L2158.5,1350.9 L2155.4,1366.3 L2150.8,1391.0 L2147.7,1400.2 L2146.2,1412.5 L2149.3,1427.9 L2161.6,1455.6 L2173.9,1480.3 L2189.3,1504.9 L2213.9,1540.0M1555.4,1563.1 L1575.6,1563.1 L1584.2,1558.8 L1581.3,1553.0 L1592.8,1545.8 L1604.4,1550.1 L1615.9,1563.1 L1627.4,1564.5 L1630.3,1573.2 L1627.4,1578.9 L1644.7,1584.7 L1659.0,1586.1 L1667.7,1576.1 L1679.2,1574.6 L1687.8,1586.1 L1693.6,1581.8 L1696.5,1561.7 L1705.1,1564.5 L1710.9,1570.3 L1719.5,1573.2 L1731.0,1580.4 L1736.8,1590.4 L1745.4,1584.7 L1754.0,1577.5 L1742.5,1567.4 L1725.2,1563.1 L1713.7,1553.0 L1719.5,1544.4 L1731.0,1538.6 L1728.1,1530.0M2213.9,1540.0 L2214.1,1547.8 L2224.4,1567.0 L2239.2,1592.2 L2260.0,1630.7 L2271.8,1645.5 L2277.8,1666.3 L2279.2,1692.9 L2280.7,1716.6 L2274.8,1731.5 L2273.3,1752.2 L2265.9,1759.6 L2251.1,1767.0 L2233.3,1772.9 L2230.4,1764.1 L2239.2,1761.1 L2227.4,1755.2 L2212.6,1734.4 L2188.9,1728.5 L2177.0,1707.8 L2171.1,1695.9 L2159.3,1684.1 L2153.3,1675.2 L2159.3,1669.2 L2147.4,1675.2 L2135.6,1663.3 L2117.8,1639.6 L2129.6,1615.9 L2123.7,1611.5 L2114.8,1610.0 L2111.9,1624.8 L2105.9,1618.9 L2108.9,1577.4 L2105.9,1553.7 L2100.0,1544.8M2188.9,1940.3 L2224.4,1937.4M1266.4,1698.4 L1269.6,1709.7 L1284.1,1709.7 L1287.3,1719.9M1285.7,1674.3 L1290.5,1685.6 L1296.9,1675.9 L1306.6,1672.7 L1308.2,1659.9 L1301.8,1655.1 L1316.2,1650.2 L1324.2,1639.0 L1330.7,1642.2 L1343.5,1637.4 L1333.9,1619.7 L1345.1,1622.9 L1366.0,1624.5 L1354.8,1634.2M1412.6,1592.4 L1422.2,1579.6 L1420.6,1557.1 L1433.4,1553.9 L1438.3,1566.7 L1449.5,1568.3 L1435.1,1576.4M2277.0,932.3 L2290.9,942.7 L2313.6,954.9 L2320.5,956.7 L2322.3,970.6 L2327.5,974.1 L2329.2,988.0M2303.1,968.8 L2320.5,982.8 L2329.2,991.5M2343.1,800.0 L2334.4,808.7 L2327.5,817.4 L2327.5,831.3 L2334.4,840.0 L2344.9,845.3 L2362.3,847.0 L2367.5,860.9 L2374.5,843.5 L2379.7,831.3 L2383.2,817.4 L2391.9,808.7 L2393.6,800.0M298.0,206.0 L302.9,204.1 L314.5,203.1 L316.4,209.0 L311.6,220.6 L306.7,221.6 L299.0,211.9M318.4,179.9 L323.2,185.7 L326.1,204.1 L322.3,221.6 L321.3,238.1 L323.2,251.7 L313.5,262.3 L308.7,276.9 L306.7,287.6 L297.0,293.4 L286.4,298.2 L275.7,292.4 L287.3,284.6 L300.9,281.7 L302.9,267.2 L297.0,258.4 L277.6,272.0 L274.7,277.9 L285.4,276.9 L296.1,267.2 L304.8,252.6 L305.8,238.1 L298.0,240.0 L293.1,235.2 L285.4,231.3 L257.2,217.7 L253.4,213.8 L235.9,197.3 L229.4,213.1 L227.9,225.4 L232.5,236.2 L229.4,280.9 L226.4,287.0 L238.7,291.6 L226.4,296.3 L231.0,305.5 L221.7,320.9 L215.6,327.1 L217.1,330.1 L212.5,342.5 L203.3,373.3 L184.8,404.1 L175.5,431.8 L157.1,471.8 L144.7,487.2 L121.6,514.9 L123.2,530.3 L115.5,551.9 L115.5,565.7 L118.6,568.8 L112.4,582.7 L115.5,598.1 L112.4,607.3 L98.5,630.1 L98.5,630.1 L98.5,629.2 L89.3,641.6 L77.0,653.9 L75.5,666.2 L84.7,690.8 L87.8,706.2 L80.1,724.7 L78.5,743.2 L73.9,752.4 L86.2,780.1 L92.4,789.4 L92.4,801.7 L95.5,810.9 L87.8,817.1 L92.4,814.0 L107.8,835.6 L101.6,854.1 L98.5,872.5 L104.7,887.9 L118.6,897.2 L117.0,909.5 L107.8,918.7 L106.2,931.0 L115.5,952.6 L120.1,977.2 L132.4,998.8 L135.5,1005.0 L132.4,1014.2 L141.7,1023.4 L135.5,1035.8 L132.4,1054.2 L138.6,1063.5 L154.0,1069.6 L172.5,1080.1 L172.5,1080.0 L190.9,1095.4 L194.0,1104.6 L209.4,1113.9 L224.8,1120.0 L229.4,1138.5 L227.9,1140.1 L240.2,1141.6 L252.5,1157.0 L267.9,1181.6 L271.0,1200.1 L266.4,1215.5 L271.0,1224.7 L269.5,1240.1 L274.1,1252.5 L275.6,1264.8 L283.3,1277.1 L277.2,1283.3 L289.5,1314.1 L286.4,1332.5 L295.6,1347.9 L292.6,1369.5 L300.3,1381.8 L297.2,1403.4 L300.3,1415.7 L320.3,1440.3 L332.6,1449.6 L357.2,1495.8 L366.5,1514.2 L354.2,1540.1M354.0,1540.1 L348.3,1544.4 L336.8,1551.6 L325.2,1548.7 L305.1,1541.5 L305.1,1550.1 L325.2,1573.2 L328.1,1587.6 L342.5,1599.1 L348.3,1607.7 L356.9,1613.5 L365.5,1629.3 L377.1,1627.9 L388.6,1629.3 L394.3,1622.1 L394.3,1642.3 L403.0,1653.8 L414.5,1666.7 L428.9,1678.2 L437.5,1699.8 L437.5,1722.8 L426.0,1754.5 L417.4,1766.0 L423.1,1786.2 L443.3,1789.0 L460.5,1812.1 L477.8,1826.5 L497.9,1855.2 L512.3,1866.8 L521.0,1884.0 L523.8,1912.8 L535.4,1915.7 L558.4,1904.2 L567.0,1886.9 L552.6,1869.6 L549.8,1858.1 L529.6,1820.7 L521.0,1832.2 L506.6,1817.8 L500.8,1791.9 L506.6,1783.3 L497.9,1760.3 L495.1,1737.2 L486.4,1728.6 L483.6,1702.7 L480.7,1668.2 L466.3,1642.3 L460.5,1627.9 L449.0,1610.6 L449.0,1596.2 L431.7,1576.1 L431.7,1535.8 L426.0,1530.0M489.3,1530.0 L497.9,1544.4 L506.6,1551.6 L521.0,1581.8 L532.5,1589.0 L552.6,1594.8 L544.0,1610.6 L546.9,1625.0 L561.3,1642.3 L575.7,1648.0 L578.5,1668.2 L598.7,1676.8 L610.2,1694.1 L610.2,1705.6 L592.9,1720.0 L592.9,1740.1 L601.6,1751.6 L621.7,1745.9 L607.3,1760.3 L624.6,1760.3 L627.5,1768.9 L647.6,1786.2 L662.0,1794.8 L650.5,1793.4 L662.0,1815.0 L662.0,1823.6 L673.5,1835.1 L690.8,1840.9 L700.0,1849.5 L700.0,1861.0 L714.4,1881.2 L725.9,1901.3 L737.4,1915.7 L743.2,1930.1 L751.8,1941.6M1261.3,1941.6 L1264.1,1904.2 L1269.9,1875.4 L1284.3,1838.0 L1298.7,1806.3 L1300.1,1789.0 L1292.9,1760.3 L1287.2,1731.5 L1282.5,1719.9 L1292.1,1693.6 L1308.2,1672.7 L1324.2,1656.7 L1345.1,1642.2 L1356.4,1634.2 L1375.6,1624.5 L1404.5,1606.9 L1414.2,1598.8 L1420.6,1592.4 L1436.7,1581.2 L1449.5,1571.5 L1468.8,1560.3 L1484.8,1557.1 L1492.9,1553.1 L1517.0,1550.7 L1533.0,1553.9 L1545.9,1561.9 L1560.0,1562.7M234.0,178.9 L258.2,200.2 L278.6,213.8 L285.4,211.9 L290.2,214.8 L289.3,204.1 L284.4,178.9" class="coast"/><path d="M2476.3,1692.9 L2500.0,1701.8 L2517.7,1710.7 L2520.7,1737.4 L2523.7,1743.3 L2511.8,1734.4M2547.4,1734.4 L2580.0,1761.1 L2571.1,1765.5M2545.9,1802.6 L2571.1,1811.5M2585.9,1790.7 L2609.6,1817.4 L2600.7,1821.8 L2627.4,1835.2M2659.9,1829.2 L2689.6,1832.2 L2680.7,1829.2 L2692.5,1839.6 L2674.8,1867.7M2734.0,1835.2 L2760.7,1836.6M2754.7,1891.4 L2766.6,1890.0M2793.3,1860.3 L2805.1,1857.4M2811.0,1847.0 L2822.9,1850.0M2437.7,1737.4 L2455.5,1732.9M2627.4,1752.2 L2630.3,1761.1" class="coast" style="stroke-width:6.5"/><path d="M298.0,206.0 L302.9,204.1 L314.5,203.1 L316.4,209.0 L311.6,220.6 L306.7,221.6 L299.0,211.9Z" fill="#000" stroke="#000" stroke-width="3"/><path d="M2277.8,1752.2 L2260.0,1781.8 L2236.3,1799.6 L2218.5,1802.6 L2200.7,1817.4" class="coast" style="stroke-width:5;stroke-dasharray:9 7"/></g><rect x="30" y="178.5" width="2790.5" height="1762.5" fill="none" stroke="#000" stroke-width="3.2"/><rect x="2994.2" y="1596.7" width="73.7" height="134.9" fill="#053061"/><rect x="2994.2" y="1462.4" width="73.7" height="134.9" fill="#246aae"/><rect x="2994.2" y="1328.1" width="73.7" height="134.9" fill="#529dc8"/><rect x="2994.2" y="1193.8" width="73.7" height="134.9" fill="#a7d0e4"/><rect x="2994.2" y="1059.5" width="73.7" height="134.9" fill="#e1edf3"/><rect x="2994.2" y="925.2" width="73.7" height="134.9" fill="#fae7dc"/><rect x="2994.2" y="790.9" width="73.7" height="134.9" fill="#f7b799"/><rect x="2994.2" y="656.6" width="73.7" height="134.9" fill="#dc6e57"/><rect x="2994.2" y="522.3" width="73.7" height="134.9" fill="#b61f2e"/><rect x="2994.2" y="388.0" width="73.7" height="134.9" fill="#67001f"/><path d="M2994.2,388.5 L3031.1,320 L3067.9,388.5Z" fill="#67001f"/><path d="M2994.2,1730.5 L3031.1,1800 L3067.9,1730.5Z" fill="#053061"/><path d="M2994.2,388.0 L3031.1,320 L3067.9,388.0 L3067.9,1731.0 L3031.1,1800 L2994.2,1731.0Z" fill="none" stroke="#000" stroke-width="3.2"/><line x1="3067.9" y1="1731.0" x2="3084" y2="1731.0" stroke="#000" stroke-width="2.6"/><text x="3101" y="1746.0" class="tick" textLength="60" lengthAdjust="spacingAndGlyphs">0.0</text><line x1="3067.9" y1="1596.7" x2="3084" y2="1596.7" stroke="#000" stroke-width="2.6"/><text x="3101" y="1611.7" class="tick" textLength="60" lengthAdjust="spacingAndGlyphs">0.1</text><line x1="3067.9" y1="1462.4" x2="3084" y2="1462.4" stroke="#000" stroke-width="2.6"/><text x="3101" y="1477.4" class="tick" textLength="60" lengthAdjust="spacingAndGlyphs">0.2</text><line x1="3067.9" y1="1328.1" x2="3084" y2="1328.1" stroke="#000" stroke-width="2.6"/><text x="3101" y="1343.1" class="tick" textLength="60" lengthAdjust="spacingAndGlyphs">0.3</text><line x1="3067.9" y1="1193.8" x2="3084" y2="1193.8" stroke="#000" stroke-width="2.6"/><text x="3101" y="1208.8" class="tick" textLength="60" lengthAdjust="spacingAndGlyphs">0.4</text><line x1="3067.9" y1="1059.5" x2="3084" y2="1059.5" stroke="#000" stroke-width="2.6"/><text x="3101" y="1074.5" class="tick" textLength="60" lengthAdjust="spacingAndGlyphs">0.5</text><line x1="3067.9" y1="925.2" x2="3084" y2="925.2" stroke="#000" stroke-width="2.6"/><text x="3101" y="940.2" class="tick" textLength="60" lengthAdjust="spacingAndGlyphs">0.6</text><line x1="3067.9" y1="790.9" x2="3084" y2="790.9" stroke="#000" stroke-width="2.6"/><text x="3101" y="805.9" class="tick" textLength="60" lengthAdjust="spacingAndGlyphs">0.7</text><line x1="3067.9" y1="656.6" x2="3084" y2="656.6" stroke="#000" stroke-width="2.6"/><text x="3101" y="671.6" class="tick" textLength="60" lengthAdjust="spacingAndGlyphs">0.8</text><line x1="3067.9" y1="522.3" x2="3084" y2="522.3" stroke="#000" stroke-width="2.6"/><text x="3101" y="537.3" class="tick" textLength="60" lengthAdjust="spacingAndGlyphs">0.9</text><line x1="3067.9" y1="388.0" x2="3084" y2="388.0" stroke="#000" stroke-width="2.6"/><text x="3101" y="403.0" class="tick" textLength="60" lengthAdjust="spacingAndGlyphs">1.0</text><text transform="translate(3212,1061) rotate(-90)" text-anchor="middle" class="tick" textLength="164" lengthAdjust="spacingAndGlyphs">Hit Rate</text>
</svg></body></html>
